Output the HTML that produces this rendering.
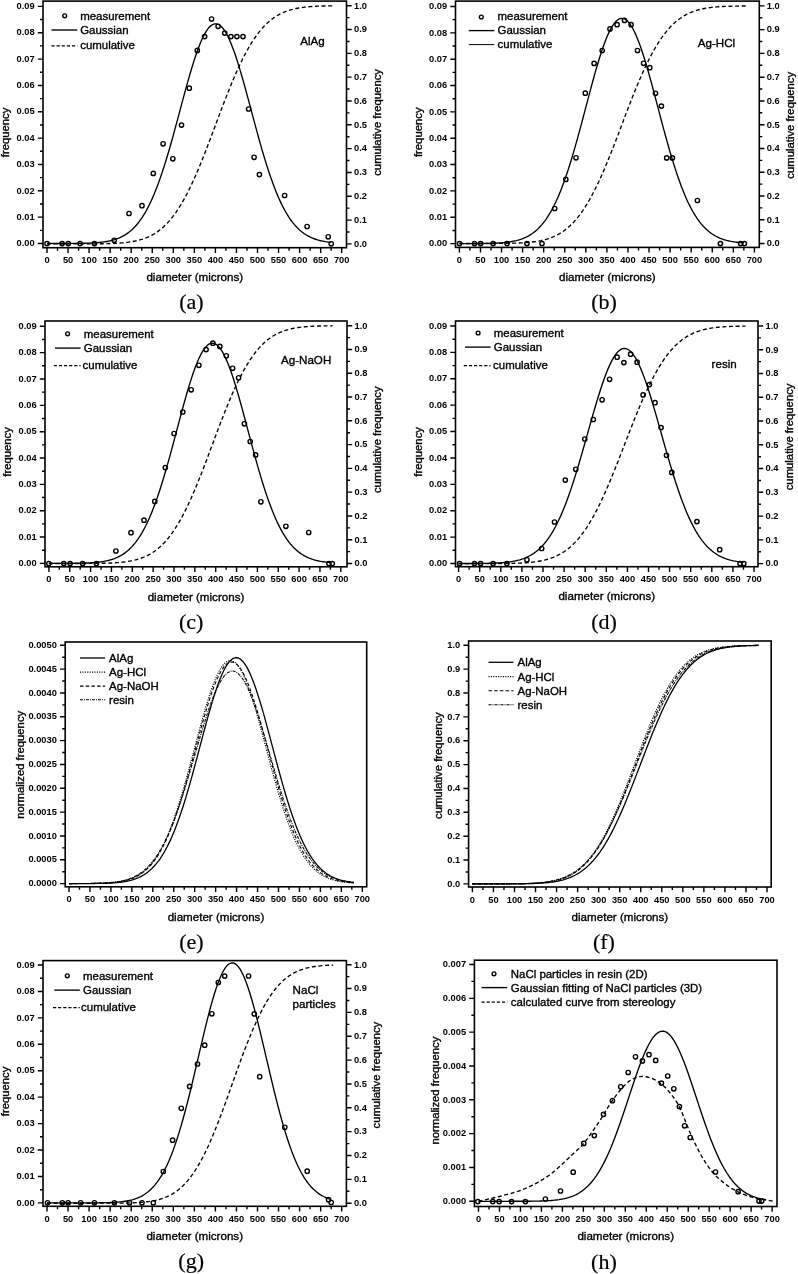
<!DOCTYPE html>
<html><head><meta charset="utf-8"><style>
html,body{margin:0;padding:0;background:#fff;}
svg{display:block;}
svg{will-change:transform;}
text{font-family:"Liberation Sans",sans-serif;fill:#000;}
.tk{font-size:9.7px;font-weight:bold;}
.tt{font-size:11.3px;stroke:#000;stroke-width:0.35px;}
.lg{font-size:11.45px;stroke:#000;stroke-width:0.35px;}
.lb{font-size:11.6px;stroke:#000;stroke-width:0.35px;}
.xt{font-size:11.6px;stroke:#000;stroke-width:0.35px;}
.pl{font-family:"Liberation Serif",serif;font-size:22px;stroke:#000;stroke-width:0.2px;}
</style></head><body>
<svg width="798" height="1274" viewBox="0 0 798 1274">
<rect width="798" height="1274" fill="#fff"/>
<rect x="43" y="1.1" width="303.50" height="246.60" fill="none" stroke="#000" stroke-width="1.6"/>
<text x="47.00" y="263.30" class="tk" text-anchor="middle" textLength="5.17" lengthAdjust="spacingAndGlyphs">0</text>
<text x="68.05" y="263.30" class="tk" text-anchor="middle" textLength="10.34" lengthAdjust="spacingAndGlyphs">50</text>
<text x="89.10" y="263.30" class="tk" text-anchor="middle" textLength="15.51" lengthAdjust="spacingAndGlyphs">100</text>
<text x="110.15" y="263.30" class="tk" text-anchor="middle" textLength="15.51" lengthAdjust="spacingAndGlyphs">150</text>
<text x="131.20" y="263.30" class="tk" text-anchor="middle" textLength="15.51" lengthAdjust="spacingAndGlyphs">200</text>
<text x="152.25" y="263.30" class="tk" text-anchor="middle" textLength="15.51" lengthAdjust="spacingAndGlyphs">250</text>
<text x="173.30" y="263.30" class="tk" text-anchor="middle" textLength="15.51" lengthAdjust="spacingAndGlyphs">300</text>
<text x="194.35" y="263.30" class="tk" text-anchor="middle" textLength="15.51" lengthAdjust="spacingAndGlyphs">350</text>
<text x="215.40" y="263.30" class="tk" text-anchor="middle" textLength="15.51" lengthAdjust="spacingAndGlyphs">400</text>
<text x="236.45" y="263.30" class="tk" text-anchor="middle" textLength="15.51" lengthAdjust="spacingAndGlyphs">450</text>
<text x="257.50" y="263.30" class="tk" text-anchor="middle" textLength="15.51" lengthAdjust="spacingAndGlyphs">500</text>
<text x="278.55" y="263.30" class="tk" text-anchor="middle" textLength="15.51" lengthAdjust="spacingAndGlyphs">550</text>
<text x="299.60" y="263.30" class="tk" text-anchor="middle" textLength="15.51" lengthAdjust="spacingAndGlyphs">600</text>
<text x="320.65" y="263.30" class="tk" text-anchor="middle" textLength="15.51" lengthAdjust="spacingAndGlyphs">650</text>
<text x="341.70" y="263.30" class="tk" text-anchor="middle" textLength="15.51" lengthAdjust="spacingAndGlyphs">700</text>
<path d="M47.00,247.7 v5.2 M57.52,247.7 v3.0 M68.05,247.7 v5.2 M78.58,247.7 v3.0 M89.10,247.7 v5.2 M99.62,247.7 v3.0 M110.15,247.7 v5.2 M120.67,247.7 v3.0 M131.20,247.7 v5.2 M141.72,247.7 v3.0 M152.25,247.7 v5.2 M162.77,247.7 v3.0 M173.30,247.7 v5.2 M183.82,247.7 v3.0 M194.35,247.7 v5.2 M204.88,247.7 v3.0 M215.40,247.7 v5.2 M225.92,247.7 v3.0 M236.45,247.7 v5.2 M246.97,247.7 v3.0 M257.50,247.7 v5.2 M268.02,247.7 v3.0 M278.55,247.7 v5.2 M289.07,247.7 v3.0 M299.60,247.7 v5.2 M310.12,247.7 v3.0 M320.65,247.7 v5.2 M331.18,247.7 v3.0 M341.70,247.7 v5.2" stroke="#000" stroke-width="1.4" fill="none"/>
<text x="194.75" y="281.40" class="xt" text-anchor="middle">diameter (microns)</text>
<text x="34.70" y="246.20" class="tk" text-anchor="end" textLength="18.10" lengthAdjust="spacingAndGlyphs">0.00</text>
<text x="34.70" y="219.86" class="tk" text-anchor="end" textLength="18.10" lengthAdjust="spacingAndGlyphs">0.01</text>
<text x="34.70" y="193.51" class="tk" text-anchor="end" textLength="18.10" lengthAdjust="spacingAndGlyphs">0.02</text>
<text x="34.70" y="167.17" class="tk" text-anchor="end" textLength="18.10" lengthAdjust="spacingAndGlyphs">0.03</text>
<text x="34.70" y="140.82" class="tk" text-anchor="end" textLength="18.10" lengthAdjust="spacingAndGlyphs">0.04</text>
<text x="34.70" y="114.48" class="tk" text-anchor="end" textLength="18.10" lengthAdjust="spacingAndGlyphs">0.05</text>
<text x="34.70" y="88.13" class="tk" text-anchor="end" textLength="18.10" lengthAdjust="spacingAndGlyphs">0.06</text>
<text x="34.70" y="61.79" class="tk" text-anchor="end" textLength="18.10" lengthAdjust="spacingAndGlyphs">0.07</text>
<text x="34.70" y="35.44" class="tk" text-anchor="end" textLength="18.10" lengthAdjust="spacingAndGlyphs">0.08</text>
<text x="34.70" y="9.10" class="tk" text-anchor="end" textLength="18.10" lengthAdjust="spacingAndGlyphs">0.09</text>
<path d="M43,243.50 h-5.2 M43,217.16 h-5.2 M43,190.81 h-5.2 M43,164.47 h-5.2 M43,138.12 h-5.2 M43,111.78 h-5.2 M43,85.43 h-5.2 M43,59.09 h-5.2 M43,32.74 h-5.2 M43,6.40 h-5.2 M43,230.33 h-3.0 M43,203.98 h-3.0 M43,177.64 h-3.0 M43,151.29 h-3.0 M43,124.95 h-3.0 M43,98.61 h-3.0 M43,72.26 h-3.0 M43,45.92 h-3.0 M43,19.57 h-3.0" stroke="#000" stroke-width="1.4" fill="none"/>
<text x="354.00" y="246.70" class="tk" textLength="12.93" lengthAdjust="spacingAndGlyphs">0.0</text>
<text x="354.00" y="222.88" class="tk" textLength="12.93" lengthAdjust="spacingAndGlyphs">0.1</text>
<text x="354.00" y="199.06" class="tk" textLength="12.93" lengthAdjust="spacingAndGlyphs">0.2</text>
<text x="354.00" y="175.24" class="tk" textLength="12.93" lengthAdjust="spacingAndGlyphs">0.3</text>
<text x="354.00" y="151.42" class="tk" textLength="12.93" lengthAdjust="spacingAndGlyphs">0.4</text>
<text x="354.00" y="127.60" class="tk" textLength="12.93" lengthAdjust="spacingAndGlyphs">0.5</text>
<text x="354.00" y="103.78" class="tk" textLength="12.93" lengthAdjust="spacingAndGlyphs">0.6</text>
<text x="354.00" y="79.96" class="tk" textLength="12.93" lengthAdjust="spacingAndGlyphs">0.7</text>
<text x="354.00" y="56.14" class="tk" textLength="12.93" lengthAdjust="spacingAndGlyphs">0.8</text>
<text x="354.00" y="32.32" class="tk" textLength="12.93" lengthAdjust="spacingAndGlyphs">0.9</text>
<text x="354.00" y="8.50" class="tk" textLength="12.93" lengthAdjust="spacingAndGlyphs">1.0</text>
<path d="M346.5,243.90 h5.2 M346.5,231.99 h3.0 M346.5,220.08 h5.2 M346.5,208.17 h3.0 M346.5,196.26 h5.2 M346.5,184.35 h3.0 M346.5,172.44 h5.2 M346.5,160.53 h3.0 M346.5,148.62 h5.2 M346.5,136.71 h3.0 M346.5,124.80 h5.2 M346.5,112.89 h3.0 M346.5,100.98 h5.2 M346.5,89.07 h3.0 M346.5,77.16 h5.2 M346.5,65.25 h3.0 M346.5,53.34 h5.2 M346.5,41.43 h3.0 M346.5,29.52 h5.2 M346.5,17.61 h3.0 M346.5,5.70 h5.2" stroke="#000" stroke-width="1.4" fill="none"/>
<text x="9.10" y="132.40" class="tt" text-anchor="middle" transform="rotate(-90 9.10 132.40)">frequency</text>
<text x="381.00" y="122.40" class="tt" text-anchor="middle" transform="rotate(-90 381.00 122.40)">cumulative frequency</text>
<path d="M47.00,243.50 L48.42,243.50 L49.84,243.50 L51.26,243.49 L52.68,243.49 L54.10,243.49 L55.53,243.49 L56.95,243.49 L58.37,243.49 L59.79,243.49 L61.21,243.48 L62.63,243.48 L64.05,243.47 L65.47,243.47 L66.89,243.46 L68.31,243.46 L69.73,243.45 L71.15,243.44 L72.58,243.43 L74.00,243.42 L75.42,243.41 L76.84,243.39 L78.26,243.37 L79.68,243.35 L81.10,243.33 L82.52,243.30 L83.94,243.27 L85.36,243.23 L86.78,243.19 L88.21,243.14 L89.63,243.08 L91.05,243.02 L92.47,242.95 L93.89,242.87 L95.31,242.78 L96.73,242.67 L98.15,242.56 L99.57,242.42 L100.99,242.28 L102.41,242.11 L103.84,241.92 L105.26,241.71 L106.68,241.48 L108.10,241.22 L109.52,240.93 L110.94,240.60 L112.36,240.24 L113.78,239.85 L115.20,239.41 L116.62,238.92 L118.04,238.39 L119.46,237.80 L120.89,237.16 L122.31,236.45 L123.73,235.68 L125.15,234.84 L126.57,233.92 L127.99,232.92 L129.41,231.83 L130.83,230.66 L132.25,229.39 L133.67,228.02 L135.09,226.54 L136.52,224.95 L137.94,223.24 L139.36,221.41 L140.78,219.46 L142.20,217.37 L143.62,215.15 L145.04,212.79 L146.46,210.28 L147.88,207.63 L149.30,204.82 L150.72,201.87 L152.14,198.76 L153.57,195.49 L154.99,192.07 L156.41,188.49 L157.83,184.75 L159.25,180.87 L160.67,176.83 L162.09,172.64 L163.51,168.32 L164.93,163.85 L166.35,159.25 L167.77,154.53 L169.20,149.70 L170.62,144.76 L172.04,139.73 L173.46,134.61 L174.88,129.43 L176.30,124.18 L177.72,118.90 L179.14,113.59 L180.56,108.27 L181.98,102.95 L183.40,97.66 L184.82,92.41 L186.25,87.22 L187.67,82.11 L189.09,77.10 L190.51,72.21 L191.93,67.45 L193.35,62.85 L194.77,58.43 L196.19,54.20 L197.61,50.18 L199.03,46.39 L200.45,42.85 L201.88,39.57 L203.30,36.56 L204.72,33.85 L206.14,31.44 L207.56,29.34 L208.98,27.57 L210.40,26.13 L211.82,25.03 L213.24,24.27 L214.66,23.87 L216.08,23.81 L217.50,24.10 L218.93,24.74 L220.35,25.73 L221.77,27.05 L223.19,28.72 L224.61,30.71 L226.03,33.01 L227.45,35.63 L228.87,38.54 L230.29,41.73 L231.71,45.18 L233.13,48.89 L234.56,52.83 L235.98,57.00 L237.40,61.36 L238.82,65.90 L240.24,70.61 L241.66,75.46 L243.08,80.43 L244.50,85.51 L245.92,90.67 L247.34,95.90 L248.76,101.18 L250.19,106.49 L251.61,111.81 L253.03,117.13 L254.45,122.43 L255.87,127.68 L257.29,132.89 L258.71,138.03 L260.13,143.09 L261.55,148.07 L262.97,152.94 L264.39,157.69 L265.81,162.33 L267.24,166.84 L268.66,171.22 L270.08,175.45 L271.50,179.54 L272.92,183.48 L274.34,187.26 L275.76,190.89 L277.18,194.37 L278.60,197.68 L280.02,200.85 L281.44,203.85 L282.87,206.71 L284.29,209.41 L285.71,211.97 L287.13,214.38 L288.55,216.64 L289.97,218.78 L291.39,220.77 L292.81,222.64 L294.23,224.39 L295.65,226.02 L297.07,227.53 L298.49,228.94 L299.92,230.25 L301.34,231.45 L302.76,232.57 L304.18,233.59 L305.60,234.54 L307.02,235.41 L308.44,236.20 L309.86,236.93 L311.28,237.59 L312.70,238.20 L314.12,238.75 L315.55,239.25 L316.97,239.71 L318.39,240.12 L319.81,240.49 L321.23,240.82 L322.65,241.12 L324.07,241.39 L325.49,241.64 L326.91,241.85 L328.33,242.05 L329.75,242.22 L331.18,242.38" fill="none" stroke="#000" stroke-width="1.35"/>
<path d="M47.00,243.90 L48.43,243.90 L49.86,243.90 L51.29,243.90 L52.73,243.90 L54.16,243.90 L55.59,243.90 L57.02,243.90 L58.45,243.90 L59.88,243.90 L61.31,243.90 L62.75,243.90 L64.18,243.90 L65.61,243.90 L67.04,243.90 L68.47,243.90 L69.90,243.89 L71.33,243.89 L72.77,243.89 L74.20,243.89 L75.63,243.89 L77.06,243.89 L78.49,243.89 L79.92,243.88 L81.35,243.88 L82.78,243.88 L84.22,243.87 L85.65,243.87 L87.08,243.86 L88.51,243.86 L89.94,243.85 L91.37,243.84 L92.80,243.83 L94.24,243.82 L95.67,243.81 L97.10,243.80 L98.53,243.78 L99.96,243.76 L101.39,243.74 L102.82,243.72 L104.26,243.69 L105.69,243.66 L107.12,243.63 L108.55,243.59 L109.98,243.54 L111.41,243.49 L112.84,243.44 L114.28,243.38 L115.71,243.31 L117.14,243.23 L118.57,243.14 L120.00,243.04 L121.43,242.93 L122.86,242.81 L124.30,242.68 L125.73,242.53 L127.16,242.36 L128.59,242.18 L130.02,241.98 L131.45,241.76 L132.88,241.51 L134.32,241.24 L135.75,240.95 L137.18,240.63 L138.61,240.28 L140.04,239.89 L141.47,239.47 L142.90,239.02 L144.34,238.53 L145.77,237.99 L147.20,237.41 L148.63,236.79 L150.06,236.11 L151.49,235.39 L152.92,234.60 L154.35,233.77 L155.79,232.87 L157.22,231.91 L158.65,230.88 L160.08,229.78 L161.51,228.62 L162.94,227.38 L164.37,226.06 L165.81,224.66 L167.24,223.19 L168.67,221.63 L170.10,219.99 L171.53,218.25 L172.96,216.44 L174.39,214.53 L175.83,212.53 L177.26,210.43 L178.69,208.25 L180.12,205.97 L181.55,203.60 L182.98,201.14 L184.41,198.58 L185.85,195.93 L187.28,193.19 L188.71,190.36 L190.14,187.45 L191.57,184.44 L193.00,181.36 L194.43,178.20 L195.87,174.96 L197.30,171.64 L198.73,168.26 L200.16,164.81 L201.59,161.30 L203.02,157.74 L204.45,154.12 L205.89,150.46 L207.32,146.76 L208.75,143.02 L210.18,139.25 L211.61,135.46 L213.04,131.65 L214.47,127.84 L215.91,124.01 L217.34,120.19 L218.77,116.38 L220.20,112.58 L221.63,108.79 L223.06,105.04 L224.49,101.32 L225.92,97.63 L227.36,93.98 L228.79,90.39 L230.22,86.85 L231.65,83.36 L233.08,79.94 L234.51,76.58 L235.94,73.30 L237.38,70.09 L238.81,66.96 L240.24,63.91 L241.67,60.94 L243.10,58.06 L244.53,55.27 L245.96,52.57 L247.40,49.96 L248.83,47.44 L250.26,45.01 L251.69,42.68 L253.12,40.44 L254.55,38.29 L255.98,36.24 L257.42,34.28 L258.85,32.40 L260.28,30.62 L261.71,28.93 L263.14,27.32 L264.57,25.79 L266.00,24.35 L267.44,22.99 L268.87,21.70 L270.30,20.50 L271.73,19.36 L273.16,18.29 L274.59,17.29 L276.02,16.36 L277.46,15.48 L278.89,14.67 L280.32,13.91 L281.75,13.20 L283.18,12.55 L284.61,11.94 L286.04,11.38 L287.48,10.87 L288.91,10.39 L290.34,9.95 L291.77,9.55 L293.20,9.18 L294.63,8.84 L296.06,8.53 L297.50,8.24 L298.93,7.98 L300.36,7.75 L301.79,7.54 L303.22,7.34 L304.65,7.17 L306.08,7.01 L307.51,6.87 L308.95,6.74 L310.38,6.62 L311.81,6.52 L313.24,6.42 L314.67,6.34 L316.10,6.26 L317.53,6.20 L318.97,6.14 L320.40,6.08 L321.83,6.04 L323.26,6.00 L324.69,5.96 L326.12,5.93 L327.55,5.90 L328.99,5.87 L330.42,5.85 L331.85,5.83 L333.28,5.81" fill="none" stroke="#000" stroke-width="1.35" stroke-dasharray="4 2.6"/>
<circle cx="47.00" cy="243.60" r="2.15" fill="none" stroke="#000" stroke-width="1.4"/>
<circle cx="62.10" cy="243.60" r="2.15" fill="none" stroke="#000" stroke-width="1.4"/>
<circle cx="68.30" cy="243.60" r="2.15" fill="none" stroke="#000" stroke-width="1.4"/>
<circle cx="80.10" cy="243.60" r="2.15" fill="none" stroke="#000" stroke-width="1.4"/>
<circle cx="94.40" cy="243.60" r="2.15" fill="none" stroke="#000" stroke-width="1.4"/>
<circle cx="114.20" cy="240.30" r="2.15" fill="none" stroke="#000" stroke-width="1.4"/>
<circle cx="129.00" cy="213.50" r="2.15" fill="none" stroke="#000" stroke-width="1.4"/>
<circle cx="142.00" cy="205.70" r="2.15" fill="none" stroke="#000" stroke-width="1.4"/>
<circle cx="153.30" cy="173.40" r="2.15" fill="none" stroke="#000" stroke-width="1.4"/>
<circle cx="163.10" cy="143.80" r="2.15" fill="none" stroke="#000" stroke-width="1.4"/>
<circle cx="172.80" cy="158.80" r="2.15" fill="none" stroke="#000" stroke-width="1.4"/>
<circle cx="181.50" cy="125.10" r="2.15" fill="none" stroke="#000" stroke-width="1.4"/>
<circle cx="189.30" cy="88.20" r="2.15" fill="none" stroke="#000" stroke-width="1.4"/>
<circle cx="197.30" cy="50.40" r="2.15" fill="none" stroke="#000" stroke-width="1.4"/>
<circle cx="204.60" cy="36.60" r="2.15" fill="none" stroke="#000" stroke-width="1.4"/>
<circle cx="211.60" cy="19.00" r="2.15" fill="none" stroke="#000" stroke-width="1.4"/>
<circle cx="218.10" cy="26.30" r="2.15" fill="none" stroke="#000" stroke-width="1.4"/>
<circle cx="224.70" cy="33.10" r="2.15" fill="none" stroke="#000" stroke-width="1.4"/>
<circle cx="230.90" cy="36.60" r="2.15" fill="none" stroke="#000" stroke-width="1.4"/>
<circle cx="236.90" cy="36.60" r="2.15" fill="none" stroke="#000" stroke-width="1.4"/>
<circle cx="243.00" cy="36.60" r="2.15" fill="none" stroke="#000" stroke-width="1.4"/>
<circle cx="248.60" cy="109.00" r="2.15" fill="none" stroke="#000" stroke-width="1.4"/>
<circle cx="254.10" cy="157.30" r="2.15" fill="none" stroke="#000" stroke-width="1.4"/>
<circle cx="259.40" cy="174.60" r="2.15" fill="none" stroke="#000" stroke-width="1.4"/>
<circle cx="284.60" cy="195.50" r="2.15" fill="none" stroke="#000" stroke-width="1.4"/>
<circle cx="307.10" cy="226.50" r="2.15" fill="none" stroke="#000" stroke-width="1.4"/>
<circle cx="328.20" cy="236.80" r="2.15" fill="none" stroke="#000" stroke-width="1.4"/>
<circle cx="331.20" cy="243.80" r="2.15" fill="none" stroke="#000" stroke-width="1.4"/>
<circle cx="64.70" cy="15.80" r="1.9" fill="none" stroke="#000" stroke-width="1.4"/>
<path d="M51.50,30.00 H77.30" stroke="#000" stroke-width="1.35"/>
<path d="M51.50,45.90 H77.30" stroke="#000" stroke-width="1.35" stroke-dasharray="3.2 1.9"/>
<text x="80.20" y="19.80" class="lg">measurement</text>
<text x="80.20" y="33.50" class="lg">Gaussian</text>
<text x="80.20" y="49.30" class="lg">cumulative</text>
<text x="300.30" y="44.60" class="lb">AlAg</text>
<rect x="455.5" y="1.1" width="303.80" height="246.30" fill="none" stroke="#000" stroke-width="1.6"/>
<text x="459.40" y="263.00" class="tk" text-anchor="middle" textLength="5.17" lengthAdjust="spacingAndGlyphs">0</text>
<text x="480.47" y="263.00" class="tk" text-anchor="middle" textLength="10.34" lengthAdjust="spacingAndGlyphs">50</text>
<text x="501.54" y="263.00" class="tk" text-anchor="middle" textLength="15.51" lengthAdjust="spacingAndGlyphs">100</text>
<text x="522.61" y="263.00" class="tk" text-anchor="middle" textLength="15.51" lengthAdjust="spacingAndGlyphs">150</text>
<text x="543.69" y="263.00" class="tk" text-anchor="middle" textLength="15.51" lengthAdjust="spacingAndGlyphs">200</text>
<text x="564.76" y="263.00" class="tk" text-anchor="middle" textLength="15.51" lengthAdjust="spacingAndGlyphs">250</text>
<text x="585.83" y="263.00" class="tk" text-anchor="middle" textLength="15.51" lengthAdjust="spacingAndGlyphs">300</text>
<text x="606.90" y="263.00" class="tk" text-anchor="middle" textLength="15.51" lengthAdjust="spacingAndGlyphs">350</text>
<text x="627.97" y="263.00" class="tk" text-anchor="middle" textLength="15.51" lengthAdjust="spacingAndGlyphs">400</text>
<text x="649.04" y="263.00" class="tk" text-anchor="middle" textLength="15.51" lengthAdjust="spacingAndGlyphs">450</text>
<text x="670.11" y="263.00" class="tk" text-anchor="middle" textLength="15.51" lengthAdjust="spacingAndGlyphs">500</text>
<text x="691.19" y="263.00" class="tk" text-anchor="middle" textLength="15.51" lengthAdjust="spacingAndGlyphs">550</text>
<text x="712.26" y="263.00" class="tk" text-anchor="middle" textLength="15.51" lengthAdjust="spacingAndGlyphs">600</text>
<text x="733.33" y="263.00" class="tk" text-anchor="middle" textLength="15.51" lengthAdjust="spacingAndGlyphs">650</text>
<text x="754.40" y="263.00" class="tk" text-anchor="middle" textLength="15.51" lengthAdjust="spacingAndGlyphs">700</text>
<path d="M459.40,247.4 v5.2 M469.94,247.4 v3.0 M480.47,247.4 v5.2 M491.01,247.4 v3.0 M501.54,247.4 v5.2 M512.08,247.4 v3.0 M522.61,247.4 v5.2 M533.15,247.4 v3.0 M543.69,247.4 v5.2 M554.22,247.4 v3.0 M564.76,247.4 v5.2 M575.29,247.4 v3.0 M585.83,247.4 v5.2 M596.36,247.4 v3.0 M606.90,247.4 v5.2 M617.44,247.4 v3.0 M627.97,247.4 v5.2 M638.51,247.4 v3.0 M649.04,247.4 v5.2 M659.58,247.4 v3.0 M670.11,247.4 v5.2 M680.65,247.4 v3.0 M691.19,247.4 v5.2 M701.72,247.4 v3.0 M712.26,247.4 v5.2 M722.79,247.4 v3.0 M733.33,247.4 v5.2 M743.86,247.4 v3.0 M754.40,247.4 v5.2" stroke="#000" stroke-width="1.4" fill="none"/>
<text x="607.40" y="281.10" class="xt" text-anchor="middle">diameter (microns)</text>
<text x="447.20" y="246.30" class="tk" text-anchor="end" textLength="18.10" lengthAdjust="spacingAndGlyphs">0.00</text>
<text x="447.20" y="219.96" class="tk" text-anchor="end" textLength="18.10" lengthAdjust="spacingAndGlyphs">0.01</text>
<text x="447.20" y="193.61" class="tk" text-anchor="end" textLength="18.10" lengthAdjust="spacingAndGlyphs">0.02</text>
<text x="447.20" y="167.27" class="tk" text-anchor="end" textLength="18.10" lengthAdjust="spacingAndGlyphs">0.03</text>
<text x="447.20" y="140.92" class="tk" text-anchor="end" textLength="18.10" lengthAdjust="spacingAndGlyphs">0.04</text>
<text x="447.20" y="114.58" class="tk" text-anchor="end" textLength="18.10" lengthAdjust="spacingAndGlyphs">0.05</text>
<text x="447.20" y="88.23" class="tk" text-anchor="end" textLength="18.10" lengthAdjust="spacingAndGlyphs">0.06</text>
<text x="447.20" y="61.89" class="tk" text-anchor="end" textLength="18.10" lengthAdjust="spacingAndGlyphs">0.07</text>
<text x="447.20" y="35.54" class="tk" text-anchor="end" textLength="18.10" lengthAdjust="spacingAndGlyphs">0.08</text>
<text x="447.20" y="9.20" class="tk" text-anchor="end" textLength="18.10" lengthAdjust="spacingAndGlyphs">0.09</text>
<path d="M455.5,243.60 h-5.2 M455.5,217.26 h-5.2 M455.5,190.91 h-5.2 M455.5,164.57 h-5.2 M455.5,138.22 h-5.2 M455.5,111.88 h-5.2 M455.5,85.53 h-5.2 M455.5,59.19 h-5.2 M455.5,32.84 h-5.2 M455.5,6.50 h-5.2 M455.5,230.43 h-3.0 M455.5,204.08 h-3.0 M455.5,177.74 h-3.0 M455.5,151.39 h-3.0 M455.5,125.05 h-3.0 M455.5,98.71 h-3.0 M455.5,72.36 h-3.0 M455.5,46.02 h-3.0 M455.5,19.67 h-3.0" stroke="#000" stroke-width="1.4" fill="none"/>
<text x="766.80" y="246.30" class="tk" textLength="12.93" lengthAdjust="spacingAndGlyphs">0.0</text>
<text x="766.80" y="222.54" class="tk" textLength="12.93" lengthAdjust="spacingAndGlyphs">0.1</text>
<text x="766.80" y="198.78" class="tk" textLength="12.93" lengthAdjust="spacingAndGlyphs">0.2</text>
<text x="766.80" y="175.02" class="tk" textLength="12.93" lengthAdjust="spacingAndGlyphs">0.3</text>
<text x="766.80" y="151.26" class="tk" textLength="12.93" lengthAdjust="spacingAndGlyphs">0.4</text>
<text x="766.80" y="127.50" class="tk" textLength="12.93" lengthAdjust="spacingAndGlyphs">0.5</text>
<text x="766.80" y="103.74" class="tk" textLength="12.93" lengthAdjust="spacingAndGlyphs">0.6</text>
<text x="766.80" y="79.98" class="tk" textLength="12.93" lengthAdjust="spacingAndGlyphs">0.7</text>
<text x="766.80" y="56.22" class="tk" textLength="12.93" lengthAdjust="spacingAndGlyphs">0.8</text>
<text x="766.80" y="32.46" class="tk" textLength="12.93" lengthAdjust="spacingAndGlyphs">0.9</text>
<text x="766.80" y="8.70" class="tk" textLength="12.93" lengthAdjust="spacingAndGlyphs">1.0</text>
<path d="M759.3,243.50 h5.2 M759.3,231.62 h3.0 M759.3,219.74 h5.2 M759.3,207.86 h3.0 M759.3,195.98 h5.2 M759.3,184.10 h3.0 M759.3,172.22 h5.2 M759.3,160.34 h3.0 M759.3,148.46 h5.2 M759.3,136.58 h3.0 M759.3,124.70 h5.2 M759.3,112.82 h3.0 M759.3,100.94 h5.2 M759.3,89.06 h3.0 M759.3,77.18 h5.2 M759.3,65.30 h3.0 M759.3,53.42 h5.2 M759.3,41.54 h3.0 M759.3,29.66 h5.2 M759.3,17.78 h3.0 M759.3,5.90 h5.2" stroke="#000" stroke-width="1.4" fill="none"/>
<text x="421.60" y="132.25" class="tt" text-anchor="middle" transform="rotate(-90 421.60 132.25)">frequency</text>
<text x="794.30" y="125.30" class="tt" text-anchor="middle" transform="rotate(-90 794.30 125.30)">cumulative frequency</text>
<path d="M459.40,243.59 L460.82,243.59 L462.24,243.59 L463.67,243.59 L465.09,243.58 L466.51,243.58 L467.93,243.58 L469.36,243.57 L470.78,243.57 L472.20,243.56 L473.62,243.55 L475.05,243.55 L476.47,243.54 L477.89,243.53 L479.31,243.51 L480.73,243.50 L482.16,243.48 L483.58,243.46 L485.00,243.44 L486.42,243.41 L487.85,243.38 L489.27,243.35 L490.69,243.31 L492.11,243.27 L493.54,243.21 L494.96,243.16 L496.38,243.09 L497.80,243.02 L499.22,242.93 L500.65,242.83 L502.07,242.73 L503.49,242.60 L504.91,242.47 L506.34,242.31 L507.76,242.14 L509.18,241.94 L510.60,241.73 L512.03,241.48 L513.45,241.21 L514.87,240.91 L516.29,240.58 L517.72,240.21 L519.14,239.80 L520.56,239.35 L521.98,238.85 L523.40,238.31 L524.83,237.71 L526.25,237.05 L527.67,236.32 L529.09,235.54 L530.52,234.68 L531.94,233.74 L533.36,232.72 L534.78,231.62 L536.21,230.42 L537.63,229.13 L539.05,227.74 L540.47,226.24 L541.89,224.63 L543.32,222.90 L544.74,221.05 L546.16,219.07 L547.58,216.96 L549.01,214.71 L550.43,212.32 L551.85,209.79 L553.27,207.11 L554.70,204.28 L556.12,201.30 L557.54,198.16 L558.96,194.86 L560.38,191.41 L561.81,187.80 L563.23,184.03 L564.65,180.11 L566.07,176.04 L567.50,171.82 L568.92,167.45 L570.34,162.94 L571.76,158.31 L573.19,153.54 L574.61,148.66 L576.03,143.67 L577.45,138.58 L578.88,133.41 L580.30,128.16 L581.72,122.85 L583.14,117.49 L584.56,112.10 L585.99,106.70 L587.41,101.30 L588.83,95.92 L590.25,90.57 L591.68,85.27 L593.10,80.05 L594.52,74.93 L595.94,69.91 L597.37,65.02 L598.79,60.29 L600.21,55.72 L601.63,51.34 L603.05,47.16 L604.48,43.21 L605.90,39.50 L607.32,36.04 L608.74,32.86 L610.17,29.96 L611.59,27.37 L613.01,25.08 L614.43,23.11 L615.86,21.48 L617.28,20.18 L618.70,19.22 L620.12,18.62 L621.54,18.36 L622.97,18.46 L624.39,18.91 L625.81,19.71 L627.23,20.86 L628.66,22.34 L630.08,24.16 L631.50,26.31 L632.92,28.77 L634.35,31.54 L635.77,34.60 L637.19,37.93 L638.61,41.53 L640.03,45.38 L641.46,49.46 L642.88,53.75 L644.30,58.23 L645.72,62.90 L647.15,67.72 L648.57,72.68 L649.99,77.76 L651.41,82.94 L652.84,88.21 L654.26,93.53 L655.68,98.90 L657.10,104.30 L658.52,109.70 L659.95,115.10 L661.37,120.47 L662.79,125.80 L664.21,131.08 L665.64,136.29 L667.06,141.42 L668.48,146.45 L669.90,151.38 L671.33,156.20 L672.75,160.90 L674.17,165.46 L675.59,169.89 L677.02,174.18 L678.44,178.32 L679.86,182.31 L681.28,186.15 L682.70,189.82 L684.13,193.35 L685.55,196.71 L686.97,199.92 L688.39,202.97 L689.82,205.87 L691.24,208.62 L692.66,211.22 L694.08,213.67 L695.51,215.98 L696.93,218.15 L698.35,220.18 L699.77,222.09 L701.19,223.87 L702.62,225.54 L704.04,227.09 L705.46,228.53 L706.88,229.86 L708.31,231.10 L709.73,232.24 L711.15,233.30 L712.57,234.27 L714.00,235.16 L715.42,235.98 L716.84,236.73 L718.26,237.42 L719.68,238.05 L721.11,238.62 L722.53,239.14 L723.95,239.61 L725.37,240.03 L726.80,240.42 L728.22,240.77 L729.64,241.08 L731.06,241.37 L732.49,241.62 L733.91,241.85 L735.33,242.05 L736.75,242.24 L738.17,242.40 L739.60,242.54 L741.02,242.67 L742.44,242.79 L743.86,242.89" fill="none" stroke="#000" stroke-width="1.35"/>
<path d="M459.40,243.50 L460.83,243.50 L462.27,243.50 L463.70,243.50 L465.13,243.50 L466.56,243.50 L468.00,243.50 L469.43,243.50 L470.86,243.50 L472.30,243.50 L473.73,243.50 L475.16,243.49 L476.59,243.49 L478.03,243.49 L479.46,243.49 L480.89,243.49 L482.33,243.49 L483.76,243.49 L485.19,243.48 L486.62,243.48 L488.06,243.48 L489.49,243.47 L490.92,243.47 L492.36,243.46 L493.79,243.46 L495.22,243.45 L496.65,243.44 L498.09,243.43 L499.52,243.42 L500.95,243.41 L502.39,243.39 L503.82,243.38 L505.25,243.36 L506.68,243.34 L508.12,243.32 L509.55,243.29 L510.98,243.26 L512.42,243.22 L513.85,243.18 L515.28,243.14 L516.71,243.09 L518.15,243.04 L519.58,242.97 L521.01,242.90 L522.45,242.82 L523.88,242.74 L525.31,242.64 L526.74,242.53 L528.18,242.41 L529.61,242.28 L531.04,242.13 L532.48,241.97 L533.91,241.79 L535.34,241.59 L536.77,241.37 L538.21,241.13 L539.64,240.86 L541.07,240.58 L542.51,240.26 L543.94,239.91 L545.37,239.54 L546.80,239.13 L548.24,238.68 L549.67,238.20 L551.10,237.68 L552.54,237.11 L553.97,236.50 L555.40,235.84 L556.83,235.13 L558.27,234.37 L559.70,233.55 L561.13,232.67 L562.57,231.73 L564.00,230.73 L565.43,229.66 L566.86,228.53 L568.30,227.32 L569.73,226.04 L571.16,224.68 L572.60,223.24 L574.03,221.72 L575.46,220.12 L576.89,218.44 L578.33,216.66 L579.76,214.81 L581.19,212.86 L582.63,210.82 L584.06,208.69 L585.49,206.47 L586.92,204.16 L588.36,201.76 L589.79,199.27 L591.22,196.69 L592.66,194.01 L594.09,191.25 L595.52,188.41 L596.95,185.48 L598.39,182.46 L599.82,179.37 L601.25,176.20 L602.69,172.96 L604.12,169.65 L605.55,166.27 L606.98,162.84 L608.42,159.34 L609.85,155.79 L611.28,152.19 L612.72,148.56 L614.15,144.88 L615.58,141.17 L617.01,137.44 L618.45,133.69 L619.88,129.92 L621.31,126.14 L622.75,122.37 L624.18,118.59 L625.61,114.83 L627.04,111.08 L628.48,107.35 L629.91,103.65 L631.34,99.98 L632.78,96.36 L634.21,92.77 L635.64,89.23 L637.07,85.75 L638.51,82.33 L639.94,78.96 L641.37,75.67 L642.81,72.44 L644.24,69.29 L645.67,66.22 L647.10,63.23 L648.54,60.31 L649.97,57.49 L651.40,54.75 L652.84,52.10 L654.27,49.54 L655.70,47.07 L657.13,44.69 L658.57,42.40 L660.00,40.20 L661.43,38.09 L662.87,36.08 L664.30,34.15 L665.73,32.31 L667.16,30.56 L668.60,28.90 L670.03,27.31 L671.46,25.82 L672.90,24.40 L674.33,23.06 L675.76,21.79 L677.19,20.60 L678.63,19.48 L680.06,18.43 L681.49,17.44 L682.93,16.52 L684.36,15.65 L685.79,14.85 L687.22,14.10 L688.66,13.40 L690.09,12.75 L691.52,12.15 L692.96,11.60 L694.39,11.08 L695.82,10.61 L697.25,10.17 L698.69,9.77 L700.12,9.40 L701.55,9.06 L702.99,8.75 L704.42,8.47 L705.85,8.21 L707.28,7.98 L708.72,7.76 L710.15,7.57 L711.58,7.39 L713.02,7.23 L714.45,7.09 L715.88,6.96 L717.31,6.84 L718.75,6.74 L720.18,6.64 L721.61,6.56 L723.05,6.48 L724.48,6.41 L725.91,6.35 L727.34,6.30 L728.78,6.25 L730.21,6.21 L731.64,6.17 L733.08,6.13 L734.51,6.11 L735.94,6.08 L737.37,6.06 L738.81,6.04 L740.24,6.02 L741.67,6.00 L743.11,5.99 L744.54,5.98 L745.97,5.97" fill="none" stroke="#000" stroke-width="1.35" stroke-dasharray="4 2.6"/>
<circle cx="459.50" cy="243.60" r="2.15" fill="none" stroke="#000" stroke-width="1.4"/>
<circle cx="474.50" cy="243.60" r="2.15" fill="none" stroke="#000" stroke-width="1.4"/>
<circle cx="480.60" cy="243.60" r="2.15" fill="none" stroke="#000" stroke-width="1.4"/>
<circle cx="493.10" cy="243.60" r="2.15" fill="none" stroke="#000" stroke-width="1.4"/>
<circle cx="507.10" cy="243.60" r="2.15" fill="none" stroke="#000" stroke-width="1.4"/>
<circle cx="526.90" cy="243.60" r="2.15" fill="none" stroke="#000" stroke-width="1.4"/>
<circle cx="542.00" cy="243.60" r="2.15" fill="none" stroke="#000" stroke-width="1.4"/>
<circle cx="554.70" cy="208.50" r="2.15" fill="none" stroke="#000" stroke-width="1.4"/>
<circle cx="565.80" cy="179.40" r="2.15" fill="none" stroke="#000" stroke-width="1.4"/>
<circle cx="576.00" cy="157.80" r="2.15" fill="none" stroke="#000" stroke-width="1.4"/>
<circle cx="585.30" cy="93.20" r="2.15" fill="none" stroke="#000" stroke-width="1.4"/>
<circle cx="594.10" cy="63.40" r="2.15" fill="none" stroke="#000" stroke-width="1.4"/>
<circle cx="602.20" cy="50.50" r="2.15" fill="none" stroke="#000" stroke-width="1.4"/>
<circle cx="610.00" cy="28.90" r="2.15" fill="none" stroke="#000" stroke-width="1.4"/>
<circle cx="617.10" cy="24.70" r="2.15" fill="none" stroke="#000" stroke-width="1.4"/>
<circle cx="624.50" cy="20.40" r="2.15" fill="none" stroke="#000" stroke-width="1.4"/>
<circle cx="631.10" cy="24.70" r="2.15" fill="none" stroke="#000" stroke-width="1.4"/>
<circle cx="637.50" cy="50.50" r="2.15" fill="none" stroke="#000" stroke-width="1.4"/>
<circle cx="643.60" cy="63.30" r="2.15" fill="none" stroke="#000" stroke-width="1.4"/>
<circle cx="649.80" cy="67.70" r="2.15" fill="none" stroke="#000" stroke-width="1.4"/>
<circle cx="655.50" cy="93.30" r="2.15" fill="none" stroke="#000" stroke-width="1.4"/>
<circle cx="661.40" cy="106.10" r="2.15" fill="none" stroke="#000" stroke-width="1.4"/>
<circle cx="666.70" cy="157.90" r="2.15" fill="none" stroke="#000" stroke-width="1.4"/>
<circle cx="672.40" cy="157.90" r="2.15" fill="none" stroke="#000" stroke-width="1.4"/>
<circle cx="697.40" cy="200.50" r="2.15" fill="none" stroke="#000" stroke-width="1.4"/>
<circle cx="720.40" cy="243.60" r="2.15" fill="none" stroke="#000" stroke-width="1.4"/>
<circle cx="740.60" cy="243.60" r="2.15" fill="none" stroke="#000" stroke-width="1.4"/>
<circle cx="744.40" cy="243.60" r="2.15" fill="none" stroke="#000" stroke-width="1.4"/>
<circle cx="481.30" cy="17.00" r="1.9" fill="none" stroke="#000" stroke-width="1.4"/>
<path d="M468.80,30.60 H494.30" stroke="#000" stroke-width="1.35"/>
<path d="M468.80,44.60 H494.30" stroke="#000" stroke-width="1.0"/>
<text x="497.60" y="20.40" class="lg">measurement</text>
<text x="497.60" y="34.20" class="lg">Gaussian</text>
<text x="497.60" y="48.30" class="lg">cumulative</text>
<text x="697.80" y="46.60" class="lb">Ag-HCl</text>
<rect x="45" y="321" width="302.00" height="245.80" fill="none" stroke="#000" stroke-width="1.6"/>
<text x="48.90" y="582.40" class="tk" text-anchor="middle" textLength="5.17" lengthAdjust="spacingAndGlyphs">0</text>
<text x="69.75" y="582.40" class="tk" text-anchor="middle" textLength="10.34" lengthAdjust="spacingAndGlyphs">50</text>
<text x="90.60" y="582.40" class="tk" text-anchor="middle" textLength="15.51" lengthAdjust="spacingAndGlyphs">100</text>
<text x="111.45" y="582.40" class="tk" text-anchor="middle" textLength="15.51" lengthAdjust="spacingAndGlyphs">150</text>
<text x="132.30" y="582.40" class="tk" text-anchor="middle" textLength="15.51" lengthAdjust="spacingAndGlyphs">200</text>
<text x="153.15" y="582.40" class="tk" text-anchor="middle" textLength="15.51" lengthAdjust="spacingAndGlyphs">250</text>
<text x="174.00" y="582.40" class="tk" text-anchor="middle" textLength="15.51" lengthAdjust="spacingAndGlyphs">300</text>
<text x="194.85" y="582.40" class="tk" text-anchor="middle" textLength="15.51" lengthAdjust="spacingAndGlyphs">350</text>
<text x="215.70" y="582.40" class="tk" text-anchor="middle" textLength="15.51" lengthAdjust="spacingAndGlyphs">400</text>
<text x="236.55" y="582.40" class="tk" text-anchor="middle" textLength="15.51" lengthAdjust="spacingAndGlyphs">450</text>
<text x="257.40" y="582.40" class="tk" text-anchor="middle" textLength="15.51" lengthAdjust="spacingAndGlyphs">500</text>
<text x="278.25" y="582.40" class="tk" text-anchor="middle" textLength="15.51" lengthAdjust="spacingAndGlyphs">550</text>
<text x="299.10" y="582.40" class="tk" text-anchor="middle" textLength="15.51" lengthAdjust="spacingAndGlyphs">600</text>
<text x="319.95" y="582.40" class="tk" text-anchor="middle" textLength="15.51" lengthAdjust="spacingAndGlyphs">650</text>
<text x="340.80" y="582.40" class="tk" text-anchor="middle" textLength="15.51" lengthAdjust="spacingAndGlyphs">700</text>
<path d="M48.90,566.8 v5.2 M59.33,566.8 v3.0 M69.75,566.8 v5.2 M80.17,566.8 v3.0 M90.60,566.8 v5.2 M101.03,566.8 v3.0 M111.45,566.8 v5.2 M121.88,566.8 v3.0 M132.30,566.8 v5.2 M142.72,566.8 v3.0 M153.15,566.8 v5.2 M163.58,566.8 v3.0 M174.00,566.8 v5.2 M184.43,566.8 v3.0 M194.85,566.8 v5.2 M205.28,566.8 v3.0 M215.70,566.8 v5.2 M226.13,566.8 v3.0 M236.55,566.8 v5.2 M246.98,566.8 v3.0 M257.40,566.8 v5.2 M267.82,566.8 v3.0 M278.25,566.8 v5.2 M288.68,566.8 v3.0 M299.10,566.8 v5.2 M309.52,566.8 v3.0 M319.95,566.8 v5.2 M330.38,566.8 v3.0 M340.80,566.8 v5.2" stroke="#000" stroke-width="1.4" fill="none"/>
<text x="196.00" y="600.50" class="xt" text-anchor="middle">diameter (microns)</text>
<text x="36.70" y="566.10" class="tk" text-anchor="end" textLength="18.10" lengthAdjust="spacingAndGlyphs">0.00</text>
<text x="36.70" y="539.76" class="tk" text-anchor="end" textLength="18.10" lengthAdjust="spacingAndGlyphs">0.01</text>
<text x="36.70" y="513.41" class="tk" text-anchor="end" textLength="18.10" lengthAdjust="spacingAndGlyphs">0.02</text>
<text x="36.70" y="487.07" class="tk" text-anchor="end" textLength="18.10" lengthAdjust="spacingAndGlyphs">0.03</text>
<text x="36.70" y="460.72" class="tk" text-anchor="end" textLength="18.10" lengthAdjust="spacingAndGlyphs">0.04</text>
<text x="36.70" y="434.38" class="tk" text-anchor="end" textLength="18.10" lengthAdjust="spacingAndGlyphs">0.05</text>
<text x="36.70" y="408.03" class="tk" text-anchor="end" textLength="18.10" lengthAdjust="spacingAndGlyphs">0.06</text>
<text x="36.70" y="381.69" class="tk" text-anchor="end" textLength="18.10" lengthAdjust="spacingAndGlyphs">0.07</text>
<text x="36.70" y="355.34" class="tk" text-anchor="end" textLength="18.10" lengthAdjust="spacingAndGlyphs">0.08</text>
<text x="36.70" y="329.00" class="tk" text-anchor="end" textLength="18.10" lengthAdjust="spacingAndGlyphs">0.09</text>
<path d="M45,563.40 h-5.2 M45,537.06 h-5.2 M45,510.71 h-5.2 M45,484.37 h-5.2 M45,458.02 h-5.2 M45,431.68 h-5.2 M45,405.33 h-5.2 M45,378.99 h-5.2 M45,352.64 h-5.2 M45,326.30 h-5.2 M45,550.23 h-3.0 M45,523.88 h-3.0 M45,497.54 h-3.0 M45,471.19 h-3.0 M45,444.85 h-3.0 M45,418.51 h-3.0 M45,392.16 h-3.0 M45,365.82 h-3.0 M45,339.47 h-3.0" stroke="#000" stroke-width="1.4" fill="none"/>
<text x="354.50" y="566.30" class="tk" textLength="12.93" lengthAdjust="spacingAndGlyphs">0.0</text>
<text x="354.50" y="542.52" class="tk" textLength="12.93" lengthAdjust="spacingAndGlyphs">0.1</text>
<text x="354.50" y="518.74" class="tk" textLength="12.93" lengthAdjust="spacingAndGlyphs">0.2</text>
<text x="354.50" y="494.96" class="tk" textLength="12.93" lengthAdjust="spacingAndGlyphs">0.3</text>
<text x="354.50" y="471.18" class="tk" textLength="12.93" lengthAdjust="spacingAndGlyphs">0.4</text>
<text x="354.50" y="447.40" class="tk" textLength="12.93" lengthAdjust="spacingAndGlyphs">0.5</text>
<text x="354.50" y="423.62" class="tk" textLength="12.93" lengthAdjust="spacingAndGlyphs">0.6</text>
<text x="354.50" y="399.84" class="tk" textLength="12.93" lengthAdjust="spacingAndGlyphs">0.7</text>
<text x="354.50" y="376.06" class="tk" textLength="12.93" lengthAdjust="spacingAndGlyphs">0.8</text>
<text x="354.50" y="352.28" class="tk" textLength="12.93" lengthAdjust="spacingAndGlyphs">0.9</text>
<text x="354.50" y="328.50" class="tk" textLength="12.93" lengthAdjust="spacingAndGlyphs">1.0</text>
<path d="M347,563.50 h5.2 M347,551.61 h3.0 M347,539.72 h5.2 M347,527.83 h3.0 M347,515.94 h5.2 M347,504.05 h3.0 M347,492.16 h5.2 M347,480.27 h3.0 M347,468.38 h5.2 M347,456.49 h3.0 M347,444.60 h5.2 M347,432.71 h3.0 M347,420.82 h5.2 M347,408.93 h3.0 M347,397.04 h5.2 M347,385.15 h3.0 M347,373.26 h5.2 M347,361.37 h3.0 M347,349.48 h5.2 M347,337.59 h3.0 M347,325.70 h5.2" stroke="#000" stroke-width="1.4" fill="none"/>
<text x="11.10" y="451.90" class="tt" text-anchor="middle" transform="rotate(-90 11.10 451.90)">frequency</text>
<text x="381.40" y="439.70" class="tt" text-anchor="middle" transform="rotate(-90 381.40 439.70)">cumulative frequency</text>
<path d="M48.90,563.39 L50.31,563.39 L51.71,563.39 L53.12,563.39 L54.53,563.39 L55.94,563.39 L57.34,563.38 L58.75,563.38 L60.16,563.38 L61.57,563.37 L62.97,563.37 L64.38,563.36 L65.79,563.36 L67.20,563.35 L68.60,563.34 L70.01,563.33 L71.42,563.32 L72.83,563.31 L74.23,563.29 L75.64,563.27 L77.05,563.25 L78.45,563.22 L79.86,563.20 L81.27,563.16 L82.68,563.13 L84.08,563.08 L85.49,563.04 L86.90,562.98 L88.31,562.92 L89.71,562.85 L91.12,562.77 L92.53,562.67 L93.94,562.57 L95.34,562.45 L96.75,562.32 L98.16,562.17 L99.57,562.01 L100.97,561.82 L102.38,561.61 L103.79,561.38 L105.19,561.12 L106.60,560.83 L108.01,560.51 L109.42,560.16 L110.82,559.76 L112.23,559.33 L113.64,558.85 L115.05,558.32 L116.45,557.74 L117.86,557.10 L119.27,556.40 L120.68,555.64 L122.08,554.81 L123.49,553.90 L124.90,552.91 L126.31,551.84 L127.71,550.68 L129.12,549.43 L130.53,548.08 L131.94,546.62 L133.34,545.05 L134.75,543.37 L136.16,541.57 L137.56,539.64 L138.97,537.58 L140.38,535.39 L141.79,533.06 L143.19,530.59 L144.60,527.98 L146.01,525.22 L147.42,522.30 L148.82,519.24 L150.23,516.01 L151.64,512.64 L153.05,509.11 L154.45,505.42 L155.86,501.59 L157.27,497.60 L158.68,493.47 L160.08,489.19 L161.49,484.78 L162.90,480.23 L164.30,475.56 L165.71,470.78 L167.12,465.88 L168.53,460.89 L169.93,455.82 L171.34,450.67 L172.75,445.46 L174.16,440.21 L175.56,434.92 L176.97,429.62 L178.38,424.32 L179.79,419.04 L181.19,413.79 L182.60,408.60 L184.01,403.47 L185.42,398.44 L186.82,393.52 L188.23,388.73 L189.64,384.08 L191.04,379.60 L192.45,375.31 L193.86,371.22 L195.27,367.35 L196.67,363.71 L198.08,360.33 L199.49,357.22 L200.90,354.39 L202.30,351.85 L203.71,349.63 L205.12,347.71 L206.53,346.13 L207.93,344.87 L209.34,343.96 L210.75,343.39 L212.16,343.16 L213.56,343.29 L214.97,343.76 L216.38,344.57 L217.79,345.72 L219.19,347.21 L220.60,349.03 L222.01,351.16 L223.41,353.61 L224.82,356.35 L226.23,359.38 L227.64,362.68 L229.04,366.25 L230.45,370.05 L231.86,374.07 L233.27,378.31 L234.67,382.74 L236.08,387.33 L237.49,392.09 L238.90,396.97 L240.30,401.97 L241.71,407.07 L243.12,412.24 L244.53,417.48 L245.93,422.75 L247.34,428.05 L248.75,433.35 L250.15,438.65 L251.56,443.91 L252.97,449.13 L254.38,454.30 L255.78,459.40 L257.19,464.41 L258.60,469.34 L260.01,474.15 L261.41,478.86 L262.82,483.44 L264.23,487.90 L265.64,492.21 L267.04,496.39 L268.45,500.42 L269.86,504.30 L271.27,508.03 L272.67,511.61 L274.08,515.03 L275.49,518.30 L276.89,521.41 L278.30,524.37 L279.71,527.18 L281.12,529.83 L282.52,532.35 L283.93,534.72 L285.34,536.95 L286.75,539.04 L288.15,541.01 L289.56,542.85 L290.97,544.56 L292.38,546.17 L293.78,547.66 L295.19,549.04 L296.60,550.32 L298.01,551.51 L299.41,552.61 L300.82,553.62 L302.23,554.55 L303.63,555.40 L305.04,556.18 L306.45,556.90 L307.86,557.56 L309.26,558.15 L310.67,558.70 L312.08,559.19 L313.49,559.64 L314.89,560.04 L316.30,560.41 L317.71,560.74 L319.12,561.04 L320.52,561.31 L321.93,561.55 L323.34,561.76 L324.75,561.95 L326.15,562.13 L327.56,562.28 L328.97,562.42 L330.38,562.54" fill="none" stroke="#000" stroke-width="1.35"/>
<path d="M48.90,563.50 L50.32,563.50 L51.74,563.50 L53.15,563.50 L54.57,563.50 L55.99,563.50 L57.41,563.50 L58.82,563.50 L60.24,563.50 L61.66,563.50 L63.08,563.50 L64.50,563.50 L65.91,563.50 L67.33,563.49 L68.75,563.49 L70.17,563.49 L71.58,563.49 L73.00,563.49 L74.42,563.49 L75.84,563.49 L77.26,563.48 L78.67,563.48 L80.09,563.48 L81.51,563.47 L82.93,563.47 L84.34,563.46 L85.76,563.46 L87.18,563.45 L88.60,563.44 L90.02,563.43 L91.43,563.42 L92.85,563.41 L94.27,563.40 L95.69,563.38 L97.11,563.36 L98.52,563.34 L99.94,563.32 L101.36,563.29 L102.78,563.26 L104.19,563.23 L105.61,563.19 L107.03,563.15 L108.45,563.10 L109.87,563.04 L111.28,562.98 L112.70,562.91 L114.12,562.84 L115.54,562.75 L116.95,562.65 L118.37,562.55 L119.79,562.43 L121.21,562.30 L122.63,562.15 L124.04,561.99 L125.46,561.81 L126.88,561.61 L128.30,561.40 L129.71,561.16 L131.13,560.89 L132.55,560.61 L133.97,560.29 L135.39,559.95 L136.80,559.57 L138.22,559.16 L139.64,558.72 L141.06,558.24 L142.47,557.72 L143.89,557.15 L145.31,556.54 L146.73,555.88 L148.15,555.17 L149.56,554.41 L150.98,553.59 L152.40,552.72 L153.82,551.78 L155.24,550.78 L156.65,549.71 L158.07,548.57 L159.49,547.36 L160.91,546.07 L162.32,544.71 L163.74,543.27 L165.16,541.75 L166.58,540.14 L168.00,538.45 L169.41,536.68 L170.83,534.81 L172.25,532.86 L173.67,530.81 L175.08,528.67 L176.50,526.44 L177.92,524.12 L179.34,521.71 L180.76,519.21 L182.17,516.61 L183.59,513.93 L185.01,511.15 L186.43,508.29 L187.84,505.35 L189.26,502.32 L190.68,499.21 L192.10,496.03 L193.52,492.77 L194.93,489.44 L196.35,486.04 L197.77,482.59 L199.19,479.07 L200.60,475.51 L202.02,471.89 L203.44,468.23 L204.86,464.54 L206.28,460.82 L207.69,457.06 L209.11,453.29 L210.53,449.51 L211.95,445.72 L213.36,441.92 L214.78,438.13 L216.20,434.35 L217.62,430.59 L219.04,426.85 L220.45,423.13 L221.87,419.45 L223.29,415.81 L224.71,412.22 L226.13,408.67 L227.54,405.18 L228.96,401.75 L230.38,398.38 L231.80,395.08 L233.21,391.85 L234.63,388.70 L236.05,385.62 L237.47,382.63 L238.89,379.72 L240.30,376.89 L241.72,374.16 L243.14,371.51 L244.56,368.95 L245.97,366.48 L247.39,364.11 L248.81,361.83 L250.23,359.64 L251.65,357.54 L253.06,355.53 L254.48,353.61 L255.90,351.78 L257.32,350.04 L258.73,348.39 L260.15,346.81 L261.57,345.33 L262.99,343.92 L264.41,342.59 L265.82,341.33 L267.24,340.15 L268.66,339.04 L270.08,338.00 L271.49,337.03 L272.91,336.11 L274.33,335.26 L275.75,334.47 L277.17,333.73 L278.58,333.04 L280.00,332.40 L281.42,331.81 L282.84,331.26 L284.25,330.76 L285.67,330.29 L287.09,329.86 L288.51,329.47 L289.93,329.11 L291.34,328.78 L292.76,328.47 L294.18,328.20 L295.60,327.94 L297.01,327.71 L298.43,327.50 L299.85,327.31 L301.27,327.14 L302.69,326.99 L304.10,326.85 L305.52,326.72 L306.94,326.61 L308.36,326.50 L309.78,326.41 L311.19,326.33 L312.61,326.26 L314.03,326.19 L315.45,326.13 L316.86,326.08 L318.28,326.03 L319.70,325.99 L321.12,325.96 L322.54,325.92 L323.95,325.90 L325.37,325.87 L326.79,325.85 L328.21,325.83 L329.62,325.81 L331.04,325.80 L332.46,325.78" fill="none" stroke="#000" stroke-width="1.35" stroke-dasharray="4 2.6"/>
<circle cx="48.80" cy="563.60" r="2.15" fill="none" stroke="#000" stroke-width="1.4"/>
<circle cx="63.80" cy="563.60" r="2.15" fill="none" stroke="#000" stroke-width="1.4"/>
<circle cx="70.10" cy="563.60" r="2.15" fill="none" stroke="#000" stroke-width="1.4"/>
<circle cx="82.60" cy="563.60" r="2.15" fill="none" stroke="#000" stroke-width="1.4"/>
<circle cx="96.40" cy="563.60" r="2.15" fill="none" stroke="#000" stroke-width="1.4"/>
<circle cx="115.90" cy="551.00" r="2.15" fill="none" stroke="#000" stroke-width="1.4"/>
<circle cx="131.00" cy="532.70" r="2.15" fill="none" stroke="#000" stroke-width="1.4"/>
<circle cx="144.00" cy="520.20" r="2.15" fill="none" stroke="#000" stroke-width="1.4"/>
<circle cx="154.80" cy="501.40" r="2.15" fill="none" stroke="#000" stroke-width="1.4"/>
<circle cx="165.30" cy="467.60" r="2.15" fill="none" stroke="#000" stroke-width="1.4"/>
<circle cx="174.10" cy="433.50" r="2.15" fill="none" stroke="#000" stroke-width="1.4"/>
<circle cx="182.80" cy="412.00" r="2.15" fill="none" stroke="#000" stroke-width="1.4"/>
<circle cx="191.20" cy="389.80" r="2.15" fill="none" stroke="#000" stroke-width="1.4"/>
<circle cx="198.90" cy="365.30" r="2.15" fill="none" stroke="#000" stroke-width="1.4"/>
<circle cx="206.10" cy="349.60" r="2.15" fill="none" stroke="#000" stroke-width="1.4"/>
<circle cx="212.90" cy="343.20" r="2.15" fill="none" stroke="#000" stroke-width="1.4"/>
<circle cx="219.80" cy="346.40" r="2.15" fill="none" stroke="#000" stroke-width="1.4"/>
<circle cx="226.30" cy="355.80" r="2.15" fill="none" stroke="#000" stroke-width="1.4"/>
<circle cx="232.60" cy="368.30" r="2.15" fill="none" stroke="#000" stroke-width="1.4"/>
<circle cx="238.60" cy="377.80" r="2.15" fill="none" stroke="#000" stroke-width="1.4"/>
<circle cx="244.40" cy="423.80" r="2.15" fill="none" stroke="#000" stroke-width="1.4"/>
<circle cx="250.20" cy="441.50" r="2.15" fill="none" stroke="#000" stroke-width="1.4"/>
<circle cx="255.60" cy="454.90" r="2.15" fill="none" stroke="#000" stroke-width="1.4"/>
<circle cx="260.90" cy="501.80" r="2.15" fill="none" stroke="#000" stroke-width="1.4"/>
<circle cx="285.90" cy="526.30" r="2.15" fill="none" stroke="#000" stroke-width="1.4"/>
<circle cx="308.70" cy="532.50" r="2.15" fill="none" stroke="#000" stroke-width="1.4"/>
<circle cx="328.90" cy="563.60" r="2.15" fill="none" stroke="#000" stroke-width="1.4"/>
<circle cx="332.30" cy="563.60" r="2.15" fill="none" stroke="#000" stroke-width="1.4"/>
<circle cx="67.60" cy="333.80" r="1.9" fill="none" stroke="#000" stroke-width="1.4"/>
<path d="M55.00,348.10 H80.60" stroke="#000" stroke-width="1.35"/>
<path d="M53.80,365.60 H80.60" stroke="#000" stroke-width="1.35" stroke-dasharray="3.2 1.9"/>
<text x="83.80" y="337.80" class="lg">measurement</text>
<text x="83.80" y="351.80" class="lg">Gaussian</text>
<text x="82.60" y="369.30" class="lg">cumulative</text>
<text x="281.00" y="363.60" class="lb">Ag-NaOH</text>
<rect x="455.5" y="321" width="302.50" height="245.70" fill="none" stroke="#000" stroke-width="1.6"/>
<text x="458.60" y="582.30" class="tk" text-anchor="middle" textLength="5.17" lengthAdjust="spacingAndGlyphs">0</text>
<text x="479.70" y="582.30" class="tk" text-anchor="middle" textLength="10.34" lengthAdjust="spacingAndGlyphs">50</text>
<text x="500.80" y="582.30" class="tk" text-anchor="middle" textLength="15.51" lengthAdjust="spacingAndGlyphs">100</text>
<text x="521.90" y="582.30" class="tk" text-anchor="middle" textLength="15.51" lengthAdjust="spacingAndGlyphs">150</text>
<text x="543.00" y="582.30" class="tk" text-anchor="middle" textLength="15.51" lengthAdjust="spacingAndGlyphs">200</text>
<text x="564.10" y="582.30" class="tk" text-anchor="middle" textLength="15.51" lengthAdjust="spacingAndGlyphs">250</text>
<text x="585.20" y="582.30" class="tk" text-anchor="middle" textLength="15.51" lengthAdjust="spacingAndGlyphs">300</text>
<text x="606.30" y="582.30" class="tk" text-anchor="middle" textLength="15.51" lengthAdjust="spacingAndGlyphs">350</text>
<text x="627.40" y="582.30" class="tk" text-anchor="middle" textLength="15.51" lengthAdjust="spacingAndGlyphs">400</text>
<text x="648.50" y="582.30" class="tk" text-anchor="middle" textLength="15.51" lengthAdjust="spacingAndGlyphs">450</text>
<text x="669.60" y="582.30" class="tk" text-anchor="middle" textLength="15.51" lengthAdjust="spacingAndGlyphs">500</text>
<text x="690.70" y="582.30" class="tk" text-anchor="middle" textLength="15.51" lengthAdjust="spacingAndGlyphs">550</text>
<text x="711.80" y="582.30" class="tk" text-anchor="middle" textLength="15.51" lengthAdjust="spacingAndGlyphs">600</text>
<text x="732.90" y="582.30" class="tk" text-anchor="middle" textLength="15.51" lengthAdjust="spacingAndGlyphs">650</text>
<text x="754.00" y="582.30" class="tk" text-anchor="middle" textLength="15.51" lengthAdjust="spacingAndGlyphs">700</text>
<path d="M458.60,566.7 v5.2 M469.15,566.7 v3.0 M479.70,566.7 v5.2 M490.25,566.7 v3.0 M500.80,566.7 v5.2 M511.35,566.7 v3.0 M521.90,566.7 v5.2 M532.45,566.7 v3.0 M543.00,566.7 v5.2 M553.55,566.7 v3.0 M564.10,566.7 v5.2 M574.65,566.7 v3.0 M585.20,566.7 v5.2 M595.75,566.7 v3.0 M606.30,566.7 v5.2 M616.85,566.7 v3.0 M627.40,566.7 v5.2 M637.95,566.7 v3.0 M648.50,566.7 v5.2 M659.05,566.7 v3.0 M669.60,566.7 v5.2 M680.15,566.7 v3.0 M690.70,566.7 v5.2 M701.25,566.7 v3.0 M711.80,566.7 v5.2 M722.35,566.7 v3.0 M732.90,566.7 v5.2 M743.45,566.7 v3.0 M754.00,566.7 v5.2" stroke="#000" stroke-width="1.4" fill="none"/>
<text x="606.75" y="600.40" class="xt" text-anchor="middle">diameter (microns)</text>
<text x="447.20" y="566.20" class="tk" text-anchor="end" textLength="18.10" lengthAdjust="spacingAndGlyphs">0.00</text>
<text x="447.20" y="539.81" class="tk" text-anchor="end" textLength="18.10" lengthAdjust="spacingAndGlyphs">0.01</text>
<text x="447.20" y="513.42" class="tk" text-anchor="end" textLength="18.10" lengthAdjust="spacingAndGlyphs">0.02</text>
<text x="447.20" y="487.03" class="tk" text-anchor="end" textLength="18.10" lengthAdjust="spacingAndGlyphs">0.03</text>
<text x="447.20" y="460.64" class="tk" text-anchor="end" textLength="18.10" lengthAdjust="spacingAndGlyphs">0.04</text>
<text x="447.20" y="434.26" class="tk" text-anchor="end" textLength="18.10" lengthAdjust="spacingAndGlyphs">0.05</text>
<text x="447.20" y="407.87" class="tk" text-anchor="end" textLength="18.10" lengthAdjust="spacingAndGlyphs">0.06</text>
<text x="447.20" y="381.48" class="tk" text-anchor="end" textLength="18.10" lengthAdjust="spacingAndGlyphs">0.07</text>
<text x="447.20" y="355.09" class="tk" text-anchor="end" textLength="18.10" lengthAdjust="spacingAndGlyphs">0.08</text>
<text x="447.20" y="328.70" class="tk" text-anchor="end" textLength="18.10" lengthAdjust="spacingAndGlyphs">0.09</text>
<path d="M455.5,563.50 h-5.2 M455.5,537.11 h-5.2 M455.5,510.72 h-5.2 M455.5,484.33 h-5.2 M455.5,457.94 h-5.2 M455.5,431.56 h-5.2 M455.5,405.17 h-5.2 M455.5,378.78 h-5.2 M455.5,352.39 h-5.2 M455.5,326.00 h-5.2 M455.5,550.31 h-3.0 M455.5,523.92 h-3.0 M455.5,497.53 h-3.0 M455.5,471.14 h-3.0 M455.5,444.75 h-3.0 M455.5,418.36 h-3.0 M455.5,391.97 h-3.0 M455.5,365.58 h-3.0 M455.5,339.19 h-3.0" stroke="#000" stroke-width="1.4" fill="none"/>
<text x="765.50" y="566.40" class="tk" textLength="12.93" lengthAdjust="spacingAndGlyphs">0.0</text>
<text x="765.50" y="542.64" class="tk" textLength="12.93" lengthAdjust="spacingAndGlyphs">0.1</text>
<text x="765.50" y="518.88" class="tk" textLength="12.93" lengthAdjust="spacingAndGlyphs">0.2</text>
<text x="765.50" y="495.12" class="tk" textLength="12.93" lengthAdjust="spacingAndGlyphs">0.3</text>
<text x="765.50" y="471.36" class="tk" textLength="12.93" lengthAdjust="spacingAndGlyphs">0.4</text>
<text x="765.50" y="447.60" class="tk" textLength="12.93" lengthAdjust="spacingAndGlyphs">0.5</text>
<text x="765.50" y="423.84" class="tk" textLength="12.93" lengthAdjust="spacingAndGlyphs">0.6</text>
<text x="765.50" y="400.08" class="tk" textLength="12.93" lengthAdjust="spacingAndGlyphs">0.7</text>
<text x="765.50" y="376.32" class="tk" textLength="12.93" lengthAdjust="spacingAndGlyphs">0.8</text>
<text x="765.50" y="352.56" class="tk" textLength="12.93" lengthAdjust="spacingAndGlyphs">0.9</text>
<text x="765.50" y="328.80" class="tk" textLength="12.93" lengthAdjust="spacingAndGlyphs">1.0</text>
<path d="M758,563.60 h5.2 M758,551.72 h3.0 M758,539.84 h5.2 M758,527.96 h3.0 M758,516.08 h5.2 M758,504.20 h3.0 M758,492.32 h5.2 M758,480.44 h3.0 M758,468.56 h5.2 M758,456.68 h3.0 M758,444.80 h5.2 M758,432.92 h3.0 M758,421.04 h5.2 M758,409.16 h3.0 M758,397.28 h5.2 M758,385.40 h3.0 M758,373.52 h5.2 M758,361.64 h3.0 M758,349.76 h5.2 M758,337.88 h3.0 M758,326.00 h5.2" stroke="#000" stroke-width="1.4" fill="none"/>
<text x="421.60" y="451.85" class="tt" text-anchor="middle" transform="rotate(-90 421.60 451.85)">frequency</text>
<text x="792.90" y="436.90" class="tt" text-anchor="middle" transform="rotate(-90 792.90 436.90)">cumulative frequency</text>
<path d="M458.60,563.49 L460.02,563.49 L461.45,563.49 L462.87,563.49 L464.30,563.48 L465.72,563.48 L467.15,563.48 L468.57,563.47 L469.99,563.47 L471.42,563.46 L472.84,563.46 L474.27,563.45 L475.69,563.44 L477.12,563.43 L478.54,563.42 L479.96,563.41 L481.39,563.39 L482.81,563.37 L484.24,563.35 L485.66,563.33 L487.09,563.30 L488.51,563.27 L489.93,563.24 L491.36,563.20 L492.78,563.15 L494.21,563.10 L495.63,563.04 L497.05,562.98 L498.48,562.90 L499.90,562.82 L501.33,562.72 L502.75,562.62 L504.18,562.49 L505.60,562.36 L507.02,562.21 L508.45,562.04 L509.87,561.85 L511.30,561.64 L512.72,561.40 L514.15,561.14 L515.57,560.85 L516.99,560.53 L518.42,560.18 L519.84,559.79 L521.27,559.35 L522.69,558.88 L524.12,558.36 L525.54,557.79 L526.96,557.17 L528.39,556.48 L529.81,555.74 L531.24,554.93 L532.66,554.05 L534.09,553.10 L535.51,552.06 L536.93,550.94 L538.36,549.74 L539.78,548.44 L541.21,547.04 L542.63,545.54 L544.06,543.94 L545.48,542.22 L546.90,540.38 L548.33,538.43 L549.75,536.35 L551.18,534.14 L552.60,531.80 L554.02,529.33 L555.45,526.72 L556.87,523.96 L558.30,521.07 L559.72,518.03 L561.15,514.85 L562.57,511.52 L563.99,508.05 L565.42,504.44 L566.84,500.69 L568.27,496.80 L569.69,492.77 L571.12,488.61 L572.54,484.33 L573.96,479.93 L575.39,475.42 L576.81,470.80 L578.24,466.09 L579.66,461.30 L581.09,456.42 L582.51,451.49 L583.93,446.50 L585.36,441.48 L586.78,436.43 L588.21,431.37 L589.63,426.31 L591.06,421.28 L592.48,416.28 L593.90,411.34 L595.33,406.47 L596.75,401.68 L598.18,397.00 L599.60,392.45 L601.02,388.03 L602.45,383.77 L603.87,379.68 L605.30,375.78 L606.72,372.09 L608.15,368.62 L609.57,365.38 L610.99,362.39 L612.42,359.67 L613.84,357.21 L615.27,355.05 L616.69,353.17 L618.12,351.60 L619.54,350.34 L620.96,349.40 L622.39,348.77 L623.81,348.46 L625.24,348.48 L626.66,348.82 L628.09,349.48 L629.51,350.47 L630.93,351.76 L632.36,353.37 L633.78,355.27 L635.21,357.47 L636.63,359.96 L638.06,362.71 L639.48,365.73 L640.90,368.99 L642.33,372.49 L643.75,376.20 L645.18,380.12 L646.60,384.23 L648.03,388.51 L649.45,392.95 L650.87,397.52 L652.30,402.21 L653.72,407.00 L655.15,411.89 L656.57,416.84 L658.00,421.84 L659.42,426.87 L660.84,431.93 L662.27,436.99 L663.69,442.04 L665.12,447.06 L666.54,452.04 L667.96,456.97 L669.39,461.83 L670.81,466.62 L672.24,471.32 L673.66,475.93 L675.09,480.43 L676.51,484.82 L677.93,489.08 L679.36,493.22 L680.78,497.24 L682.21,501.11 L683.63,504.85 L685.06,508.45 L686.48,511.90 L687.90,515.21 L689.33,518.38 L690.75,521.40 L692.18,524.28 L693.60,527.01 L695.03,529.61 L696.45,532.07 L697.87,534.39 L699.30,536.59 L700.72,538.65 L702.15,540.59 L703.57,542.41 L705.00,544.12 L706.42,545.71 L707.84,547.20 L709.27,548.59 L710.69,549.88 L712.12,551.07 L713.54,552.18 L714.97,553.21 L716.39,554.15 L717.81,555.02 L719.24,555.83 L720.66,556.56 L722.09,557.24 L723.51,557.86 L724.93,558.42 L726.36,558.94 L727.78,559.40 L729.21,559.83 L730.63,560.22 L732.06,560.57 L733.48,560.89 L734.90,561.17 L736.33,561.43 L737.75,561.66 L739.18,561.87 L740.60,562.06 L742.03,562.23 L743.45,562.38" fill="none" stroke="#000" stroke-width="1.35"/>
<path d="M458.60,563.60 L460.03,563.60 L461.47,563.60 L462.90,563.60 L464.34,563.60 L465.77,563.60 L467.21,563.60 L468.64,563.60 L470.08,563.60 L471.51,563.60 L472.95,563.60 L474.38,563.59 L475.82,563.59 L477.25,563.59 L478.69,563.59 L480.12,563.59 L481.56,563.59 L482.99,563.59 L484.43,563.58 L485.86,563.58 L487.30,563.58 L488.73,563.57 L490.17,563.57 L491.60,563.56 L493.04,563.56 L494.47,563.55 L495.90,563.54 L497.34,563.54 L498.77,563.53 L500.21,563.52 L501.64,563.50 L503.08,563.49 L504.51,563.47 L505.95,563.45 L507.38,563.43 L508.82,563.41 L510.25,563.38 L511.69,563.35 L513.12,563.31 L514.56,563.27 L515.99,563.23 L517.43,563.18 L518.86,563.12 L520.30,563.06 L521.73,562.99 L523.17,562.91 L524.60,562.82 L526.04,562.73 L527.47,562.62 L528.91,562.50 L530.34,562.37 L531.77,562.22 L533.21,562.06 L534.64,561.88 L536.08,561.69 L537.51,561.47 L538.95,561.24 L540.38,560.98 L541.82,560.70 L543.25,560.39 L544.69,560.06 L546.12,559.69 L547.56,559.29 L548.99,558.86 L550.43,558.40 L551.86,557.89 L553.30,557.35 L554.73,556.76 L556.17,556.13 L557.60,555.44 L559.04,554.71 L560.47,553.93 L561.91,553.09 L563.34,552.19 L564.78,551.23 L566.21,550.21 L567.64,549.13 L569.08,547.97 L570.51,546.75 L571.95,545.45 L573.38,544.08 L574.82,542.64 L576.25,541.11 L577.69,539.51 L579.12,537.82 L580.56,536.05 L581.99,534.19 L583.43,532.25 L584.86,530.22 L586.30,528.11 L587.73,525.90 L589.17,523.61 L590.60,521.23 L592.04,518.77 L593.47,516.22 L594.91,513.58 L596.34,510.86 L597.78,508.05 L599.21,505.17 L600.65,502.20 L602.08,499.16 L603.51,496.05 L604.95,492.87 L606.38,489.62 L607.82,486.30 L609.25,482.93 L610.69,479.50 L612.12,476.03 L613.56,472.50 L614.99,468.94 L616.43,465.34 L617.86,461.71 L619.30,458.05 L620.73,454.37 L622.17,450.68 L623.60,446.98 L625.04,443.27 L626.47,439.57 L627.91,435.88 L629.34,432.20 L630.78,428.54 L632.21,424.90 L633.65,421.29 L635.08,417.72 L636.52,414.19 L637.95,410.71 L639.38,407.27 L640.82,403.89 L642.25,400.56 L643.69,397.30 L645.12,394.11 L646.56,390.98 L647.99,387.93 L649.43,384.95 L650.86,382.05 L652.30,379.23 L653.73,376.50 L655.17,373.84 L656.60,371.28 L658.04,368.79 L659.47,366.40 L660.91,364.09 L662.34,361.88 L663.78,359.75 L665.21,357.70 L666.65,355.75 L668.08,353.87 L669.52,352.09 L670.95,350.39 L672.39,348.77 L673.82,347.23 L675.25,345.77 L676.69,344.38 L678.12,343.07 L679.56,341.84 L680.99,340.67 L682.43,339.57 L683.86,338.54 L685.30,337.57 L686.73,336.67 L688.17,335.82 L689.60,335.02 L691.04,334.28 L692.47,333.59 L693.91,332.95 L695.34,332.35 L696.78,331.80 L698.21,331.29 L699.65,330.82 L701.08,330.38 L702.52,329.98 L703.95,329.61 L705.39,329.26 L706.82,328.95 L708.26,328.67 L709.69,328.40 L711.12,328.17 L712.56,327.95 L713.99,327.75 L715.43,327.57 L716.86,327.41 L718.30,327.26 L719.73,327.12 L721.17,327.00 L722.60,326.89 L724.04,326.79 L725.47,326.70 L726.91,326.62 L728.34,326.55 L729.78,326.49 L731.21,326.43 L732.65,326.38 L734.08,326.34 L735.52,326.30 L736.95,326.26 L738.39,326.23 L739.82,326.20 L741.26,326.17 L742.69,326.15 L744.13,326.13 L745.56,326.12" fill="none" stroke="#000" stroke-width="1.35" stroke-dasharray="4 2.6"/>
<circle cx="459.50" cy="563.60" r="2.15" fill="none" stroke="#000" stroke-width="1.4"/>
<circle cx="474.50" cy="563.60" r="2.15" fill="none" stroke="#000" stroke-width="1.4"/>
<circle cx="480.60" cy="563.60" r="2.15" fill="none" stroke="#000" stroke-width="1.4"/>
<circle cx="493.10" cy="563.60" r="2.15" fill="none" stroke="#000" stroke-width="1.4"/>
<circle cx="506.90" cy="563.60" r="2.15" fill="none" stroke="#000" stroke-width="1.4"/>
<circle cx="526.90" cy="559.80" r="2.15" fill="none" stroke="#000" stroke-width="1.4"/>
<circle cx="541.70" cy="548.50" r="2.15" fill="none" stroke="#000" stroke-width="1.4"/>
<circle cx="554.50" cy="522.00" r="2.15" fill="none" stroke="#000" stroke-width="1.4"/>
<circle cx="565.30" cy="480.10" r="2.15" fill="none" stroke="#000" stroke-width="1.4"/>
<circle cx="575.80" cy="469.30" r="2.15" fill="none" stroke="#000" stroke-width="1.4"/>
<circle cx="584.80" cy="439.00" r="2.15" fill="none" stroke="#000" stroke-width="1.4"/>
<circle cx="593.30" cy="419.50" r="2.15" fill="none" stroke="#000" stroke-width="1.4"/>
<circle cx="602.10" cy="399.80" r="2.15" fill="none" stroke="#000" stroke-width="1.4"/>
<circle cx="609.60" cy="379.30" r="2.15" fill="none" stroke="#000" stroke-width="1.4"/>
<circle cx="617.10" cy="357.20" r="2.15" fill="none" stroke="#000" stroke-width="1.4"/>
<circle cx="623.90" cy="362.60" r="2.15" fill="none" stroke="#000" stroke-width="1.4"/>
<circle cx="630.60" cy="354.20" r="2.15" fill="none" stroke="#000" stroke-width="1.4"/>
<circle cx="637.10" cy="362.20" r="2.15" fill="none" stroke="#000" stroke-width="1.4"/>
<circle cx="643.10" cy="394.90" r="2.15" fill="none" stroke="#000" stroke-width="1.4"/>
<circle cx="649.40" cy="384.60" r="2.15" fill="none" stroke="#000" stroke-width="1.4"/>
<circle cx="655.00" cy="402.70" r="2.15" fill="none" stroke="#000" stroke-width="1.4"/>
<circle cx="661.10" cy="427.60" r="2.15" fill="none" stroke="#000" stroke-width="1.4"/>
<circle cx="666.50" cy="455.30" r="2.15" fill="none" stroke="#000" stroke-width="1.4"/>
<circle cx="671.80" cy="472.40" r="2.15" fill="none" stroke="#000" stroke-width="1.4"/>
<circle cx="696.90" cy="521.60" r="2.15" fill="none" stroke="#000" stroke-width="1.4"/>
<circle cx="719.70" cy="549.70" r="2.15" fill="none" stroke="#000" stroke-width="1.4"/>
<circle cx="740.00" cy="563.60" r="2.15" fill="none" stroke="#000" stroke-width="1.4"/>
<circle cx="743.80" cy="563.60" r="2.15" fill="none" stroke="#000" stroke-width="1.4"/>
<circle cx="478.10" cy="333.00" r="1.9" fill="none" stroke="#000" stroke-width="1.4"/>
<path d="M465.00,347.10 H490.60" stroke="#000" stroke-width="1.35"/>
<path d="M463.80,365.60 H490.60" stroke="#000" stroke-width="1.35" stroke-dasharray="3.2 1.9"/>
<text x="493.80" y="337.00" class="lg">measurement</text>
<text x="493.80" y="350.80" class="lg">Gaussian</text>
<text x="493.10" y="369.30" class="lg">cumulative</text>
<text x="711.60" y="367.60" class="lb">resin</text>
<rect x="65.2" y="642" width="301.50" height="244.80" fill="none" stroke="#000" stroke-width="1.6"/>
<text x="69.00" y="902.40" class="tk" text-anchor="middle" textLength="5.17" lengthAdjust="spacingAndGlyphs">0</text>
<text x="89.95" y="902.40" class="tk" text-anchor="middle" textLength="10.34" lengthAdjust="spacingAndGlyphs">50</text>
<text x="110.90" y="902.40" class="tk" text-anchor="middle" textLength="15.51" lengthAdjust="spacingAndGlyphs">100</text>
<text x="131.85" y="902.40" class="tk" text-anchor="middle" textLength="15.51" lengthAdjust="spacingAndGlyphs">150</text>
<text x="152.80" y="902.40" class="tk" text-anchor="middle" textLength="15.51" lengthAdjust="spacingAndGlyphs">200</text>
<text x="173.75" y="902.40" class="tk" text-anchor="middle" textLength="15.51" lengthAdjust="spacingAndGlyphs">250</text>
<text x="194.70" y="902.40" class="tk" text-anchor="middle" textLength="15.51" lengthAdjust="spacingAndGlyphs">300</text>
<text x="215.65" y="902.40" class="tk" text-anchor="middle" textLength="15.51" lengthAdjust="spacingAndGlyphs">350</text>
<text x="236.60" y="902.40" class="tk" text-anchor="middle" textLength="15.51" lengthAdjust="spacingAndGlyphs">400</text>
<text x="257.55" y="902.40" class="tk" text-anchor="middle" textLength="15.51" lengthAdjust="spacingAndGlyphs">450</text>
<text x="278.50" y="902.40" class="tk" text-anchor="middle" textLength="15.51" lengthAdjust="spacingAndGlyphs">500</text>
<text x="299.45" y="902.40" class="tk" text-anchor="middle" textLength="15.51" lengthAdjust="spacingAndGlyphs">550</text>
<text x="320.40" y="902.40" class="tk" text-anchor="middle" textLength="15.51" lengthAdjust="spacingAndGlyphs">600</text>
<text x="341.35" y="902.40" class="tk" text-anchor="middle" textLength="15.51" lengthAdjust="spacingAndGlyphs">650</text>
<text x="362.30" y="902.40" class="tk" text-anchor="middle" textLength="15.51" lengthAdjust="spacingAndGlyphs">700</text>
<path d="M69.00,886.8 v5.2 M79.47,886.8 v3.0 M89.95,886.8 v5.2 M100.43,886.8 v3.0 M110.90,886.8 v5.2 M121.38,886.8 v3.0 M131.85,886.8 v5.2 M142.32,886.8 v3.0 M152.80,886.8 v5.2 M163.28,886.8 v3.0 M173.75,886.8 v5.2 M184.23,886.8 v3.0 M194.70,886.8 v5.2 M205.18,886.8 v3.0 M215.65,886.8 v5.2 M226.13,886.8 v3.0 M236.60,886.8 v5.2 M247.08,886.8 v3.0 M257.55,886.8 v5.2 M268.02,886.8 v3.0 M278.50,886.8 v5.2 M288.98,886.8 v3.0 M299.45,886.8 v5.2 M309.93,886.8 v3.0 M320.40,886.8 v5.2 M330.88,886.8 v3.0 M341.35,886.8 v5.2 M351.83,886.8 v3.0 M362.30,886.8 v5.2" stroke="#000" stroke-width="1.4" fill="none"/>
<text x="215.95" y="920.50" class="xt" text-anchor="middle">diameter (microns)</text>
<text x="56.90" y="886.30" class="tk" text-anchor="end" textLength="28.44" lengthAdjust="spacingAndGlyphs">0.0000</text>
<text x="56.90" y="862.47" class="tk" text-anchor="end" textLength="28.44" lengthAdjust="spacingAndGlyphs">0.0005</text>
<text x="56.90" y="838.64" class="tk" text-anchor="end" textLength="28.44" lengthAdjust="spacingAndGlyphs">0.0010</text>
<text x="56.90" y="814.81" class="tk" text-anchor="end" textLength="28.44" lengthAdjust="spacingAndGlyphs">0.0015</text>
<text x="56.90" y="790.98" class="tk" text-anchor="end" textLength="28.44" lengthAdjust="spacingAndGlyphs">0.0020</text>
<text x="56.90" y="767.15" class="tk" text-anchor="end" textLength="28.44" lengthAdjust="spacingAndGlyphs">0.0025</text>
<text x="56.90" y="743.32" class="tk" text-anchor="end" textLength="28.44" lengthAdjust="spacingAndGlyphs">0.0030</text>
<text x="56.90" y="719.49" class="tk" text-anchor="end" textLength="28.44" lengthAdjust="spacingAndGlyphs">0.0035</text>
<text x="56.90" y="695.66" class="tk" text-anchor="end" textLength="28.44" lengthAdjust="spacingAndGlyphs">0.0040</text>
<text x="56.90" y="671.83" class="tk" text-anchor="end" textLength="28.44" lengthAdjust="spacingAndGlyphs">0.0045</text>
<text x="56.90" y="648.00" class="tk" text-anchor="end" textLength="28.44" lengthAdjust="spacingAndGlyphs">0.0050</text>
<path d="M65.2,883.60 h-5.2 M65.2,859.77 h-5.2 M65.2,835.94 h-5.2 M65.2,812.11 h-5.2 M65.2,788.28 h-5.2 M65.2,764.45 h-5.2 M65.2,740.62 h-5.2 M65.2,716.79 h-5.2 M65.2,692.96 h-5.2 M65.2,669.13 h-5.2 M65.2,645.30 h-5.2 M65.2,871.69 h-3.0 M65.2,847.86 h-3.0 M65.2,824.02 h-3.0 M65.2,800.19 h-3.0 M65.2,776.37 h-3.0 M65.2,752.53 h-3.0 M65.2,728.70 h-3.0 M65.2,704.88 h-3.0 M65.2,681.04 h-3.0 M65.2,657.21 h-3.0" stroke="#000" stroke-width="1.4" fill="none"/>
<text x="24.50" y="764.80" class="tt" text-anchor="middle" transform="rotate(-90 24.50 764.80)">normalized frequency</text>
<path d="M69.00,883.59 L70.42,883.59 L71.85,883.59 L73.27,883.59 L74.70,883.59 L76.12,883.59 L77.55,883.58 L78.97,883.58 L80.40,883.58 L81.82,883.57 L83.25,883.57 L84.67,883.56 L86.10,883.56 L87.52,883.55 L88.94,883.54 L90.37,883.53 L91.79,883.52 L93.22,883.51 L94.64,883.49 L96.07,883.47 L97.49,883.45 L98.92,883.43 L100.34,883.40 L101.77,883.37 L103.19,883.33 L104.62,883.29 L106.04,883.24 L107.46,883.19 L108.89,883.13 L110.31,883.06 L111.74,882.98 L113.16,882.89 L114.59,882.79 L116.01,882.67 L117.44,882.55 L118.86,882.40 L120.29,882.24 L121.71,882.06 L123.13,881.86 L124.56,881.63 L125.98,881.38 L127.41,881.10 L128.83,880.79 L130.26,880.44 L131.68,880.06 L133.11,879.64 L134.53,879.18 L135.96,878.66 L137.38,878.10 L138.81,877.48 L140.23,876.81 L141.65,876.07 L143.08,875.26 L144.50,874.38 L145.93,873.43 L147.35,872.39 L148.78,871.27 L150.20,870.05 L151.63,868.74 L153.05,867.32 L154.48,865.80 L155.90,864.17 L157.33,862.42 L158.75,860.54 L160.17,858.54 L161.60,856.41 L163.02,854.14 L164.45,851.73 L165.87,849.18 L167.30,846.48 L168.72,843.64 L170.15,840.64 L171.57,837.48 L173.00,834.17 L174.42,830.71 L175.85,827.09 L177.27,823.31 L178.69,819.39 L180.12,815.31 L181.54,811.08 L182.97,806.71 L184.39,802.21 L185.82,797.57 L187.24,792.82 L188.67,787.94 L190.09,782.96 L191.52,777.88 L192.94,772.72 L194.36,767.49 L195.79,762.20 L197.21,756.86 L198.64,751.49 L200.06,746.10 L201.49,740.72 L202.91,735.36 L204.34,730.03 L205.76,724.76 L207.19,719.56 L208.61,714.45 L210.04,709.45 L211.46,704.58 L212.88,699.85 L214.31,695.30 L215.73,690.93 L217.16,686.76 L218.58,682.81 L220.01,679.10 L221.43,675.64 L222.86,672.45 L224.28,669.55 L225.71,666.93 L227.13,664.63 L228.56,662.64 L229.98,660.97 L231.40,659.65 L232.83,658.66 L234.25,658.01 L235.68,657.71 L237.10,657.76 L238.53,658.16 L239.95,658.91 L241.38,660.00 L242.80,661.43 L244.23,663.19 L245.65,665.27 L247.08,667.67 L248.50,670.37 L249.92,673.36 L251.35,676.63 L252.77,680.17 L254.20,683.95 L255.62,687.96 L257.05,692.19 L258.47,696.62 L259.90,701.23 L261.32,706.00 L262.75,710.91 L264.17,715.94 L265.59,721.08 L267.02,726.30 L268.44,731.59 L269.87,736.93 L271.29,742.30 L272.72,747.69 L274.14,753.07 L275.57,758.43 L276.99,763.76 L278.42,769.03 L279.84,774.25 L281.27,779.39 L282.69,784.44 L284.11,789.39 L285.54,794.23 L286.96,798.95 L288.39,803.55 L289.81,808.01 L291.24,812.34 L292.66,816.52 L294.09,820.56 L295.51,824.44 L296.94,828.17 L298.36,831.74 L299.79,835.16 L301.21,838.43 L302.63,841.53 L304.06,844.49 L305.48,847.29 L306.91,849.95 L308.33,852.46 L309.76,854.82 L311.18,857.05 L312.61,859.14 L314.03,861.11 L315.46,862.94 L316.88,864.66 L318.31,866.26 L319.73,867.75 L321.15,869.13 L322.58,870.42 L324.00,871.61 L325.43,872.70 L326.85,873.72 L328.28,874.65 L329.70,875.51 L331.13,876.29 L332.55,877.01 L333.98,877.67 L335.40,878.27 L336.82,878.82 L338.25,879.32 L339.67,879.77 L341.10,880.18 L342.52,880.55 L343.95,880.88 L345.37,881.18 L346.80,881.46 L348.22,881.70 L349.65,881.92 L351.07,882.11 L352.50,882.29 L353.92,882.45" fill="none" stroke="#000" stroke-width="1.3"/>
<path d="M69.00,883.59 L70.42,883.59 L71.85,883.59 L73.27,883.59 L74.70,883.58 L76.12,883.58 L77.55,883.57 L78.97,883.57 L80.40,883.56 L81.82,883.56 L83.25,883.55 L84.67,883.54 L86.10,883.53 L87.52,883.52 L88.94,883.51 L90.37,883.49 L91.79,883.47 L93.22,883.45 L94.64,883.43 L96.07,883.40 L97.49,883.37 L98.92,883.33 L100.34,883.29 L101.77,883.24 L103.19,883.19 L104.62,883.13 L106.04,883.06 L107.46,882.98 L108.89,882.89 L110.31,882.78 L111.74,882.67 L113.16,882.54 L114.59,882.39 L116.01,882.23 L117.44,882.04 L118.86,881.84 L120.29,881.60 L121.71,881.35 L123.13,881.06 L124.56,880.74 L125.98,880.39 L127.41,880.00 L128.83,879.56 L130.26,879.09 L131.68,878.56 L133.11,877.98 L134.53,877.35 L135.96,876.65 L137.38,875.89 L138.81,875.06 L140.23,874.15 L141.65,873.17 L143.08,872.10 L144.50,870.94 L145.93,869.68 L147.35,868.33 L148.78,866.87 L150.20,865.30 L151.63,863.61 L153.05,861.81 L154.48,859.87 L155.90,857.81 L157.33,855.61 L158.75,853.27 L160.17,850.79 L161.60,848.16 L163.02,845.38 L164.45,842.45 L165.87,839.37 L167.30,836.12 L168.72,832.72 L170.15,829.17 L171.57,825.45 L173.00,821.58 L174.42,817.56 L175.85,813.39 L177.27,809.07 L178.69,804.62 L180.12,800.02 L181.54,795.31 L182.97,790.47 L184.39,785.52 L185.82,780.47 L187.24,775.34 L188.67,770.12 L190.09,764.85 L191.52,759.52 L192.94,754.16 L194.36,748.79 L195.79,743.41 L197.21,738.05 L198.64,732.72 L200.06,727.45 L201.49,722.24 L202.91,717.12 L204.34,712.12 L205.76,707.24 L207.19,702.51 L208.61,697.95 L210.04,693.57 L211.46,689.40 L212.88,685.45 L214.31,681.74 L215.73,678.28 L217.16,675.10 L218.58,672.20 L220.01,669.59 L221.43,667.30 L222.86,665.33 L224.28,663.69 L225.71,662.39 L227.13,661.43 L228.56,660.82 L229.98,660.56 L231.40,660.65 L232.83,661.10 L234.25,661.90 L235.68,663.04 L237.10,664.52 L238.53,666.34 L239.95,668.48 L241.38,670.93 L242.80,673.70 L244.23,676.75 L245.65,680.08 L247.08,683.67 L248.50,687.51 L249.92,691.58 L251.35,695.87 L252.77,700.34 L254.20,705.00 L255.62,709.81 L257.05,714.75 L258.47,719.82 L259.90,724.99 L261.32,730.23 L262.75,735.54 L264.17,740.88 L265.59,746.26 L267.02,751.64 L268.44,757.00 L269.87,762.35 L271.29,767.65 L272.72,772.89 L274.14,778.06 L275.57,783.16 L276.99,788.15 L278.42,793.04 L279.84,797.82 L281.27,802.47 L282.69,806.99 L284.11,811.38 L285.54,815.62 L286.96,819.71 L288.39,823.65 L289.81,827.44 L291.24,831.07 L292.66,834.54 L294.09,837.86 L295.51,841.02 L296.94,844.02 L298.36,846.87 L299.79,849.57 L301.21,852.12 L302.63,854.53 L304.06,856.79 L305.48,858.92 L306.91,860.91 L308.33,862.78 L309.76,864.52 L311.18,866.14 L312.61,867.66 L314.03,869.06 L315.46,870.36 L316.88,871.56 L318.31,872.67 L319.73,873.70 L321.15,874.64 L322.58,875.51 L324.00,876.30 L325.43,877.03 L326.85,877.69 L328.28,878.30 L329.70,878.85 L331.13,879.35 L332.55,879.80 L333.98,880.21 L335.40,880.58 L336.82,880.91 L338.25,881.22 L339.67,881.49 L341.10,881.73 L342.52,881.95 L343.95,882.14 L345.37,882.32 L346.80,882.47 L348.22,882.61 L349.65,882.73 L351.07,882.84 L352.50,882.94 L353.92,883.02" fill="none" stroke="#000" stroke-width="1.1" stroke-dasharray="1.1 1.3"/>
<path d="M69.00,883.59 L70.42,883.59 L71.85,883.59 L73.27,883.58 L74.70,883.58 L76.12,883.58 L77.55,883.57 L78.97,883.57 L80.40,883.56 L81.82,883.56 L83.25,883.55 L84.67,883.54 L86.10,883.53 L87.52,883.52 L88.94,883.50 L90.37,883.49 L91.79,883.47 L93.22,883.45 L94.64,883.42 L96.07,883.40 L97.49,883.36 L98.92,883.33 L100.34,883.28 L101.77,883.24 L103.19,883.18 L104.62,883.12 L106.04,883.05 L107.46,882.97 L108.89,882.88 L110.31,882.78 L111.74,882.66 L113.16,882.53 L114.59,882.39 L116.01,882.23 L117.44,882.04 L118.86,881.84 L120.29,881.61 L121.71,881.36 L123.13,881.08 L124.56,880.77 L125.98,880.42 L127.41,880.04 L128.83,879.61 L130.26,879.15 L131.68,878.63 L133.11,878.07 L134.53,877.45 L135.96,876.77 L137.38,876.03 L138.81,875.22 L140.23,874.34 L141.65,873.39 L143.08,872.35 L144.50,871.23 L145.93,870.01 L147.35,868.70 L148.78,867.29 L150.20,865.77 L151.63,864.14 L153.05,862.40 L154.48,860.53 L155.90,858.54 L157.33,856.41 L158.75,854.16 L160.17,851.76 L161.60,849.23 L163.02,846.55 L164.45,843.72 L165.87,840.74 L167.30,837.61 L168.72,834.33 L170.15,830.89 L171.57,827.30 L173.00,823.56 L174.42,819.68 L175.85,815.64 L177.27,811.46 L178.69,807.15 L180.12,802.70 L181.54,798.12 L182.97,793.42 L184.39,788.62 L185.82,783.71 L187.24,778.71 L188.67,773.63 L190.09,768.48 L191.52,763.27 L192.94,758.03 L194.36,752.75 L195.79,747.47 L197.21,742.19 L198.64,736.94 L200.06,731.72 L201.49,726.57 L202.91,721.48 L204.34,716.49 L205.76,711.62 L207.19,706.87 L208.61,702.28 L210.04,697.85 L211.46,693.61 L212.88,689.57 L214.31,685.75 L215.73,682.16 L217.16,678.83 L218.58,675.77 L220.01,672.98 L221.43,670.49 L222.86,668.30 L224.28,666.42 L225.71,664.86 L227.13,663.64 L228.56,662.75 L229.98,662.19 L231.40,661.98 L232.83,662.11 L234.25,662.59 L235.68,663.40 L237.10,664.55 L238.53,666.02 L239.95,667.83 L241.38,669.94 L242.80,672.37 L244.23,675.08 L245.65,678.09 L247.08,681.36 L248.50,684.88 L249.92,688.65 L251.35,692.64 L252.77,696.83 L254.20,701.22 L255.62,705.78 L257.05,710.49 L258.47,715.34 L259.90,720.30 L261.32,725.36 L262.75,730.50 L264.17,735.71 L265.59,740.96 L267.02,746.23 L268.44,751.51 L269.87,756.79 L271.29,762.04 L272.72,767.26 L274.14,772.42 L275.57,777.52 L276.99,782.54 L278.42,787.47 L279.84,792.30 L281.27,797.03 L282.69,801.63 L284.11,806.11 L285.54,810.46 L286.96,814.67 L288.39,818.74 L289.81,822.66 L291.24,826.44 L292.66,830.06 L294.09,833.53 L295.51,836.85 L296.94,840.02 L298.36,843.03 L299.79,845.89 L301.21,848.61 L302.63,851.18 L304.06,853.61 L305.48,855.90 L306.91,858.05 L308.33,860.07 L309.76,861.97 L311.18,863.74 L312.61,865.40 L314.03,866.94 L315.46,868.38 L316.88,869.71 L318.31,870.95 L319.73,872.10 L321.15,873.15 L322.58,874.13 L324.00,875.02 L325.43,875.85 L326.85,876.60 L328.28,877.30 L329.70,877.93 L331.13,878.50 L332.55,879.03 L333.98,879.51 L335.40,879.94 L336.82,880.33 L338.25,880.69 L339.67,881.01 L341.10,881.30 L342.52,881.56 L343.95,881.79 L345.37,882.00 L346.80,882.18 L348.22,882.35 L349.65,882.50 L351.07,882.63 L352.50,882.75 L353.92,882.86" fill="none" stroke="#000" stroke-width="1.1" stroke-dasharray="3.5 2.2"/>
<path d="M69.00,883.58 L70.42,883.58 L71.85,883.58 L73.27,883.57 L74.70,883.57 L76.12,883.56 L77.55,883.56 L78.97,883.55 L80.40,883.54 L81.82,883.53 L83.25,883.52 L84.67,883.51 L86.10,883.49 L87.52,883.48 L88.94,883.46 L90.37,883.44 L91.79,883.41 L93.22,883.38 L94.64,883.35 L96.07,883.31 L97.49,883.27 L98.92,883.22 L100.34,883.17 L101.77,883.11 L103.19,883.04 L104.62,882.96 L106.04,882.87 L107.46,882.77 L108.89,882.66 L110.31,882.54 L111.74,882.40 L113.16,882.25 L114.59,882.07 L116.01,881.88 L117.44,881.67 L118.86,881.43 L120.29,881.17 L121.71,880.88 L123.13,880.55 L124.56,880.20 L125.98,879.81 L127.41,879.38 L128.83,878.91 L130.26,878.40 L131.68,877.83 L133.11,877.22 L134.53,876.55 L135.96,875.82 L137.38,875.03 L138.81,874.17 L140.23,873.24 L141.65,872.23 L143.08,871.15 L144.50,869.98 L145.93,868.72 L147.35,867.37 L148.78,865.92 L150.20,864.37 L151.63,862.72 L153.05,860.95 L154.48,859.07 L155.90,857.08 L157.33,854.96 L158.75,852.72 L160.17,850.35 L161.60,847.85 L163.02,845.22 L164.45,842.46 L165.87,839.56 L167.30,836.52 L168.72,833.35 L170.15,830.04 L171.57,826.59 L173.00,823.01 L174.42,819.30 L175.85,815.46 L177.27,811.49 L178.69,807.40 L180.12,803.20 L181.54,798.88 L182.97,794.47 L184.39,789.96 L185.82,785.36 L187.24,780.69 L188.67,775.95 L190.09,771.15 L191.52,766.31 L192.94,761.44 L194.36,756.55 L195.79,751.65 L197.21,746.76 L198.64,741.90 L200.06,737.07 L201.49,732.30 L202.91,727.60 L204.34,722.98 L205.76,718.47 L207.19,714.07 L208.61,709.81 L210.04,705.70 L211.46,701.75 L212.88,697.98 L214.31,694.41 L215.73,691.05 L217.16,687.91 L218.58,685.01 L220.01,682.35 L221.43,679.95 L222.86,677.82 L224.28,675.97 L225.71,674.41 L227.13,673.13 L228.56,672.16 L229.98,671.48 L231.40,671.11 L232.83,671.05 L234.25,671.29 L235.68,671.84 L237.10,672.69 L238.53,673.85 L239.95,675.29 L241.38,677.03 L242.80,679.04 L244.23,681.33 L245.65,683.88 L247.08,686.68 L248.50,689.73 L249.92,693.00 L251.35,696.49 L252.77,700.17 L254.20,704.05 L255.62,708.10 L257.05,712.30 L258.47,716.64 L259.90,721.11 L261.32,725.68 L262.75,730.35 L264.17,735.10 L265.59,739.90 L267.02,744.75 L268.44,749.63 L269.87,754.53 L271.29,759.43 L272.72,764.31 L274.14,769.16 L275.57,773.98 L276.99,778.74 L278.42,783.45 L279.84,788.08 L281.27,792.62 L282.69,797.08 L284.11,801.43 L285.54,805.68 L286.96,809.82 L288.39,813.84 L289.81,817.73 L291.24,821.50 L292.66,825.13 L294.09,828.63 L295.51,832.00 L296.94,835.23 L298.36,838.32 L299.79,841.28 L301.21,844.10 L302.63,846.79 L304.06,849.34 L305.48,851.76 L306.91,854.05 L308.33,856.22 L309.76,858.27 L311.18,860.19 L312.61,862.00 L314.03,863.70 L315.46,865.29 L316.88,866.78 L318.31,868.17 L319.73,869.47 L321.15,870.68 L322.58,871.80 L324.00,872.83 L325.43,873.79 L326.85,874.68 L328.28,875.50 L329.70,876.26 L331.13,876.95 L332.55,877.59 L333.98,878.17 L335.40,878.71 L336.82,879.19 L338.25,879.64 L339.67,880.04 L341.10,880.41 L342.52,880.75 L343.95,881.05 L345.37,881.32 L346.80,881.57 L348.22,881.80 L349.65,882.00 L351.07,882.18 L352.50,882.34 L353.92,882.48" fill="none" stroke="#000" stroke-width="1.1" stroke-dasharray="3 1 1 1"/>
<path d="M80,658.0 H105.1" stroke="#000" stroke-width="1.3"/>
<text x="109.10" y="662.10" class="lg">AlAg</text>
<path d="M80,672.1 H105.1" stroke="#000" stroke-width="1.1" stroke-dasharray="1.1 1.3"/>
<text x="109.10" y="676.20" class="lg">Ag-HCl</text>
<path d="M80,686.1 H105.1" stroke="#000" stroke-width="1.1" stroke-dasharray="3.5 2.2"/>
<text x="109.10" y="690.20" class="lg">Ag-NaOH</text>
<path d="M80,699.7 H105.1" stroke="#000" stroke-width="1.1" stroke-dasharray="3 1 1 1"/>
<text x="109.10" y="703.80" class="lg">resin</text>
<rect x="468.6" y="641" width="302.60" height="246.00" fill="none" stroke="#000" stroke-width="1.6"/>
<text x="472.40" y="902.60" class="tk" text-anchor="middle" textLength="5.17" lengthAdjust="spacingAndGlyphs">0</text>
<text x="493.44" y="902.60" class="tk" text-anchor="middle" textLength="10.34" lengthAdjust="spacingAndGlyphs">50</text>
<text x="514.49" y="902.60" class="tk" text-anchor="middle" textLength="15.51" lengthAdjust="spacingAndGlyphs">100</text>
<text x="535.53" y="902.60" class="tk" text-anchor="middle" textLength="15.51" lengthAdjust="spacingAndGlyphs">150</text>
<text x="556.57" y="902.60" class="tk" text-anchor="middle" textLength="15.51" lengthAdjust="spacingAndGlyphs">200</text>
<text x="577.61" y="902.60" class="tk" text-anchor="middle" textLength="15.51" lengthAdjust="spacingAndGlyphs">250</text>
<text x="598.66" y="902.60" class="tk" text-anchor="middle" textLength="15.51" lengthAdjust="spacingAndGlyphs">300</text>
<text x="619.70" y="902.60" class="tk" text-anchor="middle" textLength="15.51" lengthAdjust="spacingAndGlyphs">350</text>
<text x="640.74" y="902.60" class="tk" text-anchor="middle" textLength="15.51" lengthAdjust="spacingAndGlyphs">400</text>
<text x="661.79" y="902.60" class="tk" text-anchor="middle" textLength="15.51" lengthAdjust="spacingAndGlyphs">450</text>
<text x="682.83" y="902.60" class="tk" text-anchor="middle" textLength="15.51" lengthAdjust="spacingAndGlyphs">500</text>
<text x="703.87" y="902.60" class="tk" text-anchor="middle" textLength="15.51" lengthAdjust="spacingAndGlyphs">550</text>
<text x="724.91" y="902.60" class="tk" text-anchor="middle" textLength="15.51" lengthAdjust="spacingAndGlyphs">600</text>
<text x="745.96" y="902.60" class="tk" text-anchor="middle" textLength="15.51" lengthAdjust="spacingAndGlyphs">650</text>
<text x="767.00" y="902.60" class="tk" text-anchor="middle" textLength="15.51" lengthAdjust="spacingAndGlyphs">700</text>
<path d="M472.40,887 v5.2 M482.92,887 v3.0 M493.44,887 v5.2 M503.96,887 v3.0 M514.49,887 v5.2 M525.01,887 v3.0 M535.53,887 v5.2 M546.05,887 v3.0 M556.57,887 v5.2 M567.09,887 v3.0 M577.61,887 v5.2 M588.14,887 v3.0 M598.66,887 v5.2 M609.18,887 v3.0 M619.70,887 v5.2 M630.22,887 v3.0 M640.74,887 v5.2 M651.26,887 v3.0 M661.79,887 v5.2 M672.31,887 v3.0 M682.83,887 v5.2 M693.35,887 v3.0 M703.87,887 v5.2 M714.39,887 v3.0 M724.91,887 v5.2 M735.44,887 v3.0 M745.96,887 v5.2 M756.48,887 v3.0 M767.00,887 v5.2" stroke="#000" stroke-width="1.4" fill="none"/>
<text x="619.90" y="920.70" class="xt" text-anchor="middle">diameter (microns)</text>
<text x="460.30" y="886.60" class="tk" text-anchor="end" textLength="12.93" lengthAdjust="spacingAndGlyphs">0.0</text>
<text x="460.30" y="862.74" class="tk" text-anchor="end" textLength="12.93" lengthAdjust="spacingAndGlyphs">0.1</text>
<text x="460.30" y="838.88" class="tk" text-anchor="end" textLength="12.93" lengthAdjust="spacingAndGlyphs">0.2</text>
<text x="460.30" y="815.02" class="tk" text-anchor="end" textLength="12.93" lengthAdjust="spacingAndGlyphs">0.3</text>
<text x="460.30" y="791.16" class="tk" text-anchor="end" textLength="12.93" lengthAdjust="spacingAndGlyphs">0.4</text>
<text x="460.30" y="767.30" class="tk" text-anchor="end" textLength="12.93" lengthAdjust="spacingAndGlyphs">0.5</text>
<text x="460.30" y="743.44" class="tk" text-anchor="end" textLength="12.93" lengthAdjust="spacingAndGlyphs">0.6</text>
<text x="460.30" y="719.58" class="tk" text-anchor="end" textLength="12.93" lengthAdjust="spacingAndGlyphs">0.7</text>
<text x="460.30" y="695.72" class="tk" text-anchor="end" textLength="12.93" lengthAdjust="spacingAndGlyphs">0.8</text>
<text x="460.30" y="671.86" class="tk" text-anchor="end" textLength="12.93" lengthAdjust="spacingAndGlyphs">0.9</text>
<text x="460.30" y="648.00" class="tk" text-anchor="end" textLength="12.93" lengthAdjust="spacingAndGlyphs">1.0</text>
<path d="M468.6,883.90 h-5.2 M468.6,860.04 h-5.2 M468.6,836.18 h-5.2 M468.6,812.32 h-5.2 M468.6,788.46 h-5.2 M468.6,764.60 h-5.2 M468.6,740.74 h-5.2 M468.6,716.88 h-5.2 M468.6,693.02 h-5.2 M468.6,669.16 h-5.2 M468.6,645.30 h-5.2 M468.6,871.97 h-3.0 M468.6,848.11 h-3.0 M468.6,824.25 h-3.0 M468.6,800.39 h-3.0 M468.6,776.53 h-3.0 M468.6,752.67 h-3.0 M468.6,728.81 h-3.0 M468.6,704.95 h-3.0 M468.6,681.09 h-3.0 M468.6,657.23 h-3.0" stroke="#000" stroke-width="1.4" fill="none"/>
<text x="442.10" y="765.60" class="tt" text-anchor="middle" transform="rotate(-90 442.10 765.60)">cumulative frequency</text>
<path d="M472.40,883.90 L473.83,883.90 L475.26,883.90 L476.69,883.90 L478.12,883.90 L479.55,883.90 L480.99,883.90 L482.42,883.90 L483.85,883.90 L485.28,883.90 L486.71,883.90 L488.14,883.90 L489.57,883.90 L491.00,883.90 L492.43,883.89 L493.86,883.89 L495.29,883.89 L496.73,883.89 L498.16,883.89 L499.59,883.89 L501.02,883.88 L502.45,883.88 L503.88,883.88 L505.31,883.88 L506.74,883.87 L508.17,883.87 L509.60,883.86 L511.03,883.85 L512.47,883.85 L513.90,883.84 L515.33,883.83 L516.76,883.82 L518.19,883.81 L519.62,883.79 L521.05,883.77 L522.48,883.76 L523.91,883.73 L525.34,883.71 L526.77,883.68 L528.21,883.65 L529.64,883.62 L531.07,883.58 L532.50,883.54 L533.93,883.49 L535.36,883.43 L536.79,883.37 L538.22,883.30 L539.65,883.22 L541.08,883.14 L542.51,883.04 L543.95,882.93 L545.38,882.81 L546.81,882.68 L548.24,882.54 L549.67,882.38 L551.10,882.20 L552.53,882.00 L553.96,881.79 L555.39,881.56 L556.82,881.30 L558.25,881.02 L559.69,880.71 L561.12,880.37 L562.55,880.01 L563.98,879.61 L565.41,879.17 L566.84,878.71 L568.27,878.20 L569.70,877.65 L571.13,877.06 L572.56,876.42 L573.99,875.73 L575.43,875.00 L576.86,874.20 L578.29,873.36 L579.72,872.45 L581.15,871.48 L582.58,870.45 L584.01,869.36 L585.44,868.19 L586.87,866.95 L588.30,865.64 L589.73,864.26 L591.17,862.79 L592.60,861.25 L594.03,859.62 L595.46,857.92 L596.89,856.12 L598.32,854.24 L599.75,852.28 L601.18,850.22 L602.61,848.08 L604.04,845.84 L605.48,843.52 L606.91,841.11 L608.34,838.61 L609.77,836.03 L611.20,833.35 L612.63,830.59 L614.06,827.75 L615.49,824.82 L616.92,821.82 L618.35,818.74 L619.78,815.58 L621.22,812.36 L622.65,809.06 L624.08,805.71 L625.51,802.29 L626.94,798.82 L628.37,795.30 L629.80,791.73 L631.23,788.12 L632.66,784.48 L634.09,780.81 L635.52,777.11 L636.96,773.39 L638.39,769.66 L639.82,765.92 L641.25,762.18 L642.68,758.44 L644.11,754.71 L645.54,751.00 L646.97,747.31 L648.40,743.64 L649.83,740.01 L651.26,736.41 L652.70,732.86 L654.13,729.35 L655.56,725.90 L656.99,722.50 L658.42,719.16 L659.85,715.89 L661.28,712.68 L662.71,709.55 L664.14,706.49 L665.57,703.51 L667.00,700.61 L668.44,697.79 L669.87,695.05 L671.30,692.40 L672.73,689.84 L674.16,687.37 L675.59,684.99 L677.02,682.69 L678.45,680.48 L679.88,678.37 L681.31,676.34 L682.74,674.40 L684.18,672.54 L685.61,670.77 L687.04,669.09 L688.47,667.49 L689.90,665.97 L691.33,664.53 L692.76,663.16 L694.19,661.87 L695.62,660.66 L697.05,659.51 L698.48,658.44 L699.92,657.42 L701.35,656.48 L702.78,655.59 L704.21,654.76 L705.64,653.98 L707.07,653.26 L708.50,652.59 L709.93,651.96 L711.36,651.38 L712.79,650.85 L714.22,650.35 L715.66,649.89 L717.09,649.47 L718.52,649.08 L719.95,648.73 L721.38,648.40 L722.81,648.10 L724.24,647.82 L725.67,647.57 L727.10,647.34 L728.53,647.14 L729.96,646.95 L731.40,646.77 L732.83,646.62 L734.26,646.48 L735.69,646.35 L737.12,646.24 L738.55,646.13 L739.98,646.04 L741.41,645.95 L742.84,645.88 L744.27,645.81 L745.70,645.75 L747.14,645.70 L748.57,645.65 L750.00,645.61 L751.43,645.57 L752.86,645.54 L754.29,645.51 L755.72,645.48 L757.15,645.46 L758.58,645.44" fill="none" stroke="#000" stroke-width="1.3"/>
<path d="M472.40,883.90 L473.83,883.90 L475.26,883.90 L476.69,883.90 L478.12,883.90 L479.55,883.90 L480.99,883.90 L482.42,883.90 L483.85,883.90 L485.28,883.90 L486.71,883.90 L488.14,883.89 L489.57,883.89 L491.00,883.89 L492.43,883.89 L493.86,883.89 L495.29,883.89 L496.73,883.88 L498.16,883.88 L499.59,883.88 L501.02,883.88 L502.45,883.87 L503.88,883.87 L505.31,883.86 L506.74,883.85 L508.17,883.85 L509.60,883.84 L511.03,883.83 L512.47,883.82 L513.90,883.80 L515.33,883.79 L516.76,883.77 L518.19,883.75 L519.62,883.73 L521.05,883.71 L522.48,883.68 L523.91,883.65 L525.34,883.61 L526.77,883.57 L528.21,883.52 L529.64,883.47 L531.07,883.41 L532.50,883.35 L533.93,883.28 L535.36,883.20 L536.79,883.11 L538.22,883.00 L539.65,882.89 L541.08,882.77 L542.51,882.63 L543.95,882.48 L545.38,882.31 L546.81,882.12 L548.24,881.92 L549.67,881.69 L551.10,881.45 L552.53,881.17 L553.96,880.88 L555.39,880.55 L556.82,880.20 L558.25,879.81 L559.69,879.39 L561.12,878.94 L562.55,878.44 L563.98,877.91 L565.41,877.33 L566.84,876.70 L568.27,876.03 L569.70,875.30 L571.13,874.53 L572.56,873.69 L573.99,872.80 L575.43,871.84 L576.86,870.82 L578.29,869.74 L579.72,868.58 L581.15,867.35 L582.58,866.05 L584.01,864.67 L585.44,863.22 L586.87,861.68 L588.30,860.05 L589.73,858.35 L591.17,856.55 L592.60,854.67 L594.03,852.70 L595.46,850.64 L596.89,848.49 L598.32,846.25 L599.75,843.91 L601.18,841.49 L602.61,838.97 L604.04,836.37 L605.48,833.67 L606.91,830.89 L608.34,828.02 L609.77,825.07 L611.20,822.04 L612.63,818.93 L614.06,815.74 L615.49,812.48 L616.92,809.15 L618.35,805.75 L619.78,802.30 L621.22,798.79 L622.65,795.22 L624.08,791.61 L625.51,787.96 L626.94,784.27 L628.37,780.56 L629.80,776.81 L631.23,773.05 L632.66,769.27 L634.09,765.49 L635.52,761.71 L636.96,757.93 L638.39,754.16 L639.82,750.40 L641.25,746.67 L642.68,742.97 L644.11,739.30 L645.54,735.67 L646.97,732.08 L648.40,728.55 L649.83,725.06 L651.26,721.64 L652.70,718.28 L654.13,714.99 L655.56,711.76 L656.99,708.62 L658.42,705.54 L659.85,702.55 L661.28,699.65 L662.71,696.82 L664.14,694.09 L665.57,691.44 L667.00,688.88 L668.44,686.42 L669.87,684.04 L671.30,681.75 L672.73,679.56 L674.16,677.46 L675.59,675.44 L677.02,673.52 L678.45,671.69 L679.88,669.94 L681.31,668.28 L682.74,666.70 L684.18,665.20 L685.61,663.79 L687.04,662.45 L688.47,661.19 L689.90,660.00 L691.33,658.88 L692.76,657.83 L694.19,656.84 L695.62,655.92 L697.05,655.06 L698.48,654.25 L699.92,653.51 L701.35,652.81 L702.78,652.16 L704.21,651.56 L705.64,651.01 L707.07,650.49 L708.50,650.02 L709.93,649.58 L711.36,649.18 L712.79,648.81 L714.22,648.47 L715.66,648.16 L717.09,647.88 L718.52,647.62 L719.95,647.38 L721.38,647.17 L722.81,646.98 L724.24,646.80 L725.67,646.64 L727.10,646.49 L728.53,646.36 L729.96,646.25 L731.40,646.14 L732.83,646.05 L734.26,645.96 L735.69,645.88 L737.12,645.82 L738.55,645.75 L739.98,645.70 L741.41,645.65 L742.84,645.61 L744.27,645.57 L745.70,645.54 L747.14,645.51 L748.57,645.48 L750.00,645.46 L751.43,645.44 L752.86,645.42 L754.29,645.40 L755.72,645.39 L757.15,645.38 L758.58,645.37" fill="none" stroke="#000" stroke-width="1.1" stroke-dasharray="1.1 1.3"/>
<path d="M472.40,883.90 L473.83,883.90 L475.26,883.90 L476.69,883.90 L478.12,883.90 L479.55,883.90 L480.99,883.90 L482.42,883.90 L483.85,883.90 L485.28,883.90 L486.71,883.89 L488.14,883.89 L489.57,883.89 L491.00,883.89 L492.43,883.89 L493.86,883.89 L495.29,883.89 L496.73,883.88 L498.16,883.88 L499.59,883.88 L501.02,883.87 L502.45,883.87 L503.88,883.86 L505.31,883.86 L506.74,883.85 L508.17,883.85 L509.60,883.84 L511.03,883.83 L512.47,883.82 L513.90,883.80 L515.33,883.79 L516.76,883.77 L518.19,883.75 L519.62,883.73 L521.05,883.70 L522.48,883.68 L523.91,883.65 L525.34,883.61 L526.77,883.57 L528.21,883.52 L529.64,883.47 L531.07,883.42 L532.50,883.35 L533.93,883.28 L535.36,883.20 L536.79,883.11 L538.22,883.01 L539.65,882.91 L541.08,882.78 L542.51,882.65 L543.95,882.50 L545.38,882.34 L546.81,882.16 L548.24,881.96 L549.67,881.74 L551.10,881.50 L552.53,881.23 L553.96,880.95 L555.39,880.63 L556.82,880.29 L558.25,879.91 L559.69,879.51 L561.12,879.07 L562.55,878.59 L563.98,878.07 L565.41,877.51 L566.84,876.91 L568.27,876.26 L569.70,875.56 L571.13,874.81 L572.56,874.01 L573.99,873.15 L575.43,872.23 L576.86,871.25 L578.29,870.20 L579.72,869.09 L581.15,867.91 L582.58,866.65 L584.01,865.32 L585.44,863.92 L586.87,862.44 L588.30,860.87 L589.73,859.23 L591.17,857.50 L592.60,855.69 L594.03,853.79 L595.46,851.80 L596.89,849.72 L598.32,847.56 L599.75,845.31 L601.18,842.96 L602.61,840.53 L604.04,838.01 L605.48,835.40 L606.91,832.71 L608.34,829.93 L609.77,827.07 L611.20,824.12 L612.63,821.10 L614.06,818.00 L615.49,814.83 L616.92,811.59 L618.35,808.28 L619.78,804.91 L621.22,801.48 L622.65,798.00 L624.08,794.46 L625.51,790.89 L626.94,787.27 L628.37,783.62 L629.80,779.94 L631.23,776.24 L632.66,772.51 L634.09,768.78 L635.52,765.04 L636.96,761.30 L638.39,757.56 L639.82,753.84 L641.25,750.13 L642.68,746.44 L644.11,742.79 L645.54,739.16 L646.97,735.57 L648.40,732.03 L649.83,728.53 L651.26,725.09 L652.70,721.71 L654.13,718.38 L655.56,715.13 L656.99,711.94 L658.42,708.82 L659.85,705.78 L661.28,702.82 L662.71,699.94 L664.14,697.14 L665.57,694.42 L667.00,691.79 L668.44,689.25 L669.87,686.80 L671.30,684.44 L672.73,682.16 L674.16,679.98 L675.59,677.88 L677.02,675.87 L678.45,673.95 L679.88,672.12 L681.31,670.37 L682.74,668.71 L684.18,667.12 L685.61,665.62 L687.04,664.20 L688.47,662.85 L689.90,661.58 L691.33,660.38 L692.76,659.25 L694.19,658.19 L695.62,657.20 L697.05,656.26 L698.48,655.39 L699.92,654.57 L701.35,653.81 L702.78,653.10 L704.21,652.44 L705.64,651.82 L707.07,651.25 L708.50,650.73 L709.93,650.24 L711.36,649.79 L712.79,649.38 L714.22,649.00 L715.66,648.65 L717.09,648.33 L718.52,648.03 L719.95,647.76 L721.38,647.52 L722.81,647.29 L724.24,647.09 L725.67,646.90 L727.10,646.74 L728.53,646.58 L729.96,646.45 L731.40,646.32 L732.83,646.21 L734.26,646.11 L735.69,646.02 L737.12,645.94 L738.55,645.86 L739.98,645.80 L741.41,645.74 L742.84,645.69 L744.27,645.64 L745.70,645.60 L747.14,645.56 L748.57,645.53 L750.00,645.50 L751.43,645.48 L752.86,645.45 L754.29,645.43 L755.72,645.42 L757.15,645.40 L758.58,645.39" fill="none" stroke="#000" stroke-width="1.1" stroke-dasharray="3.5 2.2"/>
<path d="M472.40,883.90 L473.83,883.90 L475.26,883.90 L476.69,883.90 L478.12,883.90 L479.55,883.90 L480.99,883.90 L482.42,883.89 L483.85,883.89 L485.28,883.89 L486.71,883.89 L488.14,883.89 L489.57,883.89 L491.00,883.89 L492.43,883.88 L493.86,883.88 L495.29,883.88 L496.73,883.88 L498.16,883.87 L499.59,883.87 L501.02,883.86 L502.45,883.86 L503.88,883.85 L505.31,883.84 L506.74,883.83 L508.17,883.82 L509.60,883.81 L511.03,883.80 L512.47,883.78 L513.90,883.77 L515.33,883.75 L516.76,883.72 L518.19,883.70 L519.62,883.67 L521.05,883.64 L522.48,883.61 L523.91,883.57 L525.34,883.52 L526.77,883.47 L528.21,883.42 L529.64,883.36 L531.07,883.29 L532.50,883.21 L533.93,883.13 L535.36,883.04 L536.79,882.93 L538.22,882.82 L539.65,882.69 L541.08,882.55 L542.51,882.40 L543.95,882.23 L545.38,882.05 L546.81,881.85 L548.24,881.62 L549.67,881.38 L551.10,881.12 L552.53,880.83 L553.96,880.52 L555.39,880.17 L556.82,879.80 L558.25,879.40 L559.69,878.97 L561.12,878.50 L562.55,877.99 L563.98,877.45 L565.41,876.86 L566.84,876.23 L568.27,875.56 L569.70,874.83 L571.13,874.06 L572.56,873.23 L573.99,872.35 L575.43,871.41 L576.86,870.41 L578.29,869.34 L579.72,868.22 L581.15,867.02 L582.58,865.76 L584.01,864.43 L585.44,863.03 L586.87,861.55 L588.30,859.99 L589.73,858.36 L591.17,856.65 L592.60,854.86 L594.03,852.99 L595.46,851.03 L596.89,849.00 L598.32,846.88 L599.75,844.67 L601.18,842.39 L602.61,840.02 L604.04,837.57 L605.48,835.03 L606.91,832.42 L608.34,829.73 L609.77,826.96 L611.20,824.11 L612.63,821.19 L614.06,818.20 L615.49,815.14 L616.92,812.01 L618.35,808.82 L619.78,805.57 L621.22,802.27 L622.65,798.92 L624.08,795.52 L625.51,792.07 L626.94,788.59 L628.37,785.07 L629.80,781.53 L631.23,777.96 L632.66,774.37 L634.09,770.76 L635.52,767.15 L636.96,763.54 L638.39,759.92 L639.82,756.31 L641.25,752.72 L642.68,749.14 L644.11,745.58 L645.54,742.06 L646.97,738.56 L648.40,735.10 L649.83,731.68 L651.26,728.30 L652.70,724.98 L654.13,721.71 L655.56,718.50 L656.99,715.34 L658.42,712.26 L659.85,709.24 L661.28,706.29 L662.71,703.41 L664.14,700.61 L665.57,697.88 L667.00,695.23 L668.44,692.67 L669.87,690.18 L671.30,687.78 L672.73,685.46 L674.16,683.22 L675.59,681.07 L677.02,678.99 L678.45,677.01 L679.88,675.10 L681.31,673.28 L682.74,671.53 L684.18,669.87 L685.61,668.28 L687.04,666.77 L688.47,665.34 L689.90,663.98 L691.33,662.69 L692.76,661.47 L694.19,660.31 L695.62,659.22 L697.05,658.20 L698.48,657.23 L699.92,656.33 L701.35,655.48 L702.78,654.68 L704.21,653.94 L705.64,653.24 L707.07,652.59 L708.50,651.99 L709.93,651.43 L711.36,650.90 L712.79,650.42 L714.22,649.97 L715.66,649.56 L717.09,649.17 L718.52,648.82 L719.95,648.50 L721.38,648.20 L722.81,647.92 L724.24,647.67 L725.67,647.44 L727.10,647.23 L728.53,647.04 L729.96,646.87 L731.40,646.71 L732.83,646.56 L734.26,646.43 L735.69,646.31 L737.12,646.20 L738.55,646.11 L739.98,646.02 L741.41,645.94 L742.84,645.87 L744.27,645.80 L745.70,645.75 L747.14,645.70 L748.57,645.65 L750.00,645.61 L751.43,645.57 L752.86,645.54 L754.29,645.51 L755.72,645.49 L757.15,645.46 L758.58,645.44" fill="none" stroke="#000" stroke-width="1.1" stroke-dasharray="3 1 1 1"/>
<path d="M488.5,662.3 H513.5" stroke="#000" stroke-width="1.3"/>
<text x="517.50" y="666.40" class="lg">AlAg</text>
<path d="M488.5,676.6 H513.5" stroke="#000" stroke-width="1.1" stroke-dasharray="1.1 1.3"/>
<text x="517.50" y="680.70" class="lg">Ag-HCl</text>
<path d="M488.5,690.7 H513.5" stroke="#000" stroke-width="1.1" stroke-dasharray="3.5 2.2"/>
<text x="517.50" y="694.80" class="lg">Ag-NaOH</text>
<path d="M488.5,704.8 H513.5" stroke="#000" stroke-width="1.1" stroke-dasharray="3 1 1 1"/>
<text x="517.50" y="708.90" class="lg">resin</text>
<rect x="43" y="960.6" width="303.40" height="245.70" fill="none" stroke="#000" stroke-width="1.6"/>
<text x="47.00" y="1221.90" class="tk" text-anchor="middle" textLength="5.17" lengthAdjust="spacingAndGlyphs">0</text>
<text x="68.05" y="1221.90" class="tk" text-anchor="middle" textLength="10.34" lengthAdjust="spacingAndGlyphs">50</text>
<text x="89.10" y="1221.90" class="tk" text-anchor="middle" textLength="15.51" lengthAdjust="spacingAndGlyphs">100</text>
<text x="110.15" y="1221.90" class="tk" text-anchor="middle" textLength="15.51" lengthAdjust="spacingAndGlyphs">150</text>
<text x="131.20" y="1221.90" class="tk" text-anchor="middle" textLength="15.51" lengthAdjust="spacingAndGlyphs">200</text>
<text x="152.25" y="1221.90" class="tk" text-anchor="middle" textLength="15.51" lengthAdjust="spacingAndGlyphs">250</text>
<text x="173.30" y="1221.90" class="tk" text-anchor="middle" textLength="15.51" lengthAdjust="spacingAndGlyphs">300</text>
<text x="194.35" y="1221.90" class="tk" text-anchor="middle" textLength="15.51" lengthAdjust="spacingAndGlyphs">350</text>
<text x="215.40" y="1221.90" class="tk" text-anchor="middle" textLength="15.51" lengthAdjust="spacingAndGlyphs">400</text>
<text x="236.45" y="1221.90" class="tk" text-anchor="middle" textLength="15.51" lengthAdjust="spacingAndGlyphs">450</text>
<text x="257.50" y="1221.90" class="tk" text-anchor="middle" textLength="15.51" lengthAdjust="spacingAndGlyphs">500</text>
<text x="278.55" y="1221.90" class="tk" text-anchor="middle" textLength="15.51" lengthAdjust="spacingAndGlyphs">550</text>
<text x="299.60" y="1221.90" class="tk" text-anchor="middle" textLength="15.51" lengthAdjust="spacingAndGlyphs">600</text>
<text x="320.65" y="1221.90" class="tk" text-anchor="middle" textLength="15.51" lengthAdjust="spacingAndGlyphs">650</text>
<text x="341.70" y="1221.90" class="tk" text-anchor="middle" textLength="15.51" lengthAdjust="spacingAndGlyphs">700</text>
<path d="M47.00,1206.3 v5.2 M57.52,1206.3 v3.0 M68.05,1206.3 v5.2 M78.58,1206.3 v3.0 M89.10,1206.3 v5.2 M99.62,1206.3 v3.0 M110.15,1206.3 v5.2 M120.67,1206.3 v3.0 M131.20,1206.3 v5.2 M141.72,1206.3 v3.0 M152.25,1206.3 v5.2 M162.77,1206.3 v3.0 M173.30,1206.3 v5.2 M183.82,1206.3 v3.0 M194.35,1206.3 v5.2 M204.88,1206.3 v3.0 M215.40,1206.3 v5.2 M225.92,1206.3 v3.0 M236.45,1206.3 v5.2 M246.97,1206.3 v3.0 M257.50,1206.3 v5.2 M268.02,1206.3 v3.0 M278.55,1206.3 v5.2 M289.07,1206.3 v3.0 M299.60,1206.3 v5.2 M310.12,1206.3 v3.0 M320.65,1206.3 v5.2 M331.18,1206.3 v3.0 M341.70,1206.3 v5.2" stroke="#000" stroke-width="1.4" fill="none"/>
<text x="194.70" y="1240.00" class="xt" text-anchor="middle">diameter (microns)</text>
<text x="34.70" y="1205.60" class="tk" text-anchor="end" textLength="18.10" lengthAdjust="spacingAndGlyphs">0.00</text>
<text x="34.70" y="1179.17" class="tk" text-anchor="end" textLength="18.10" lengthAdjust="spacingAndGlyphs">0.01</text>
<text x="34.70" y="1152.73" class="tk" text-anchor="end" textLength="18.10" lengthAdjust="spacingAndGlyphs">0.02</text>
<text x="34.70" y="1126.30" class="tk" text-anchor="end" textLength="18.10" lengthAdjust="spacingAndGlyphs">0.03</text>
<text x="34.70" y="1099.87" class="tk" text-anchor="end" textLength="18.10" lengthAdjust="spacingAndGlyphs">0.04</text>
<text x="34.70" y="1073.43" class="tk" text-anchor="end" textLength="18.10" lengthAdjust="spacingAndGlyphs">0.05</text>
<text x="34.70" y="1047.00" class="tk" text-anchor="end" textLength="18.10" lengthAdjust="spacingAndGlyphs">0.06</text>
<text x="34.70" y="1020.57" class="tk" text-anchor="end" textLength="18.10" lengthAdjust="spacingAndGlyphs">0.07</text>
<text x="34.70" y="994.13" class="tk" text-anchor="end" textLength="18.10" lengthAdjust="spacingAndGlyphs">0.08</text>
<text x="34.70" y="967.70" class="tk" text-anchor="end" textLength="18.10" lengthAdjust="spacingAndGlyphs">0.09</text>
<path d="M43,1202.90 h-5.2 M43,1176.47 h-5.2 M43,1150.03 h-5.2 M43,1123.60 h-5.2 M43,1097.17 h-5.2 M43,1070.73 h-5.2 M43,1044.30 h-5.2 M43,1017.87 h-5.2 M43,991.43 h-5.2 M43,965.00 h-5.2 M43,1189.68 h-3.0 M43,1163.25 h-3.0 M43,1136.82 h-3.0 M43,1110.38 h-3.0 M43,1083.95 h-3.0 M43,1057.52 h-3.0 M43,1031.08 h-3.0 M43,1004.65 h-3.0 M43,978.22 h-3.0" stroke="#000" stroke-width="1.4" fill="none"/>
<text x="353.90" y="1206.00" class="tk" textLength="12.93" lengthAdjust="spacingAndGlyphs">0.0</text>
<text x="353.90" y="1182.15" class="tk" textLength="12.93" lengthAdjust="spacingAndGlyphs">0.1</text>
<text x="353.90" y="1158.30" class="tk" textLength="12.93" lengthAdjust="spacingAndGlyphs">0.2</text>
<text x="353.90" y="1134.45" class="tk" textLength="12.93" lengthAdjust="spacingAndGlyphs">0.3</text>
<text x="353.90" y="1110.60" class="tk" textLength="12.93" lengthAdjust="spacingAndGlyphs">0.4</text>
<text x="353.90" y="1086.75" class="tk" textLength="12.93" lengthAdjust="spacingAndGlyphs">0.5</text>
<text x="353.90" y="1062.90" class="tk" textLength="12.93" lengthAdjust="spacingAndGlyphs">0.6</text>
<text x="353.90" y="1039.05" class="tk" textLength="12.93" lengthAdjust="spacingAndGlyphs">0.7</text>
<text x="353.90" y="1015.20" class="tk" textLength="12.93" lengthAdjust="spacingAndGlyphs">0.8</text>
<text x="353.90" y="991.35" class="tk" textLength="12.93" lengthAdjust="spacingAndGlyphs">0.9</text>
<text x="353.90" y="967.50" class="tk" textLength="12.93" lengthAdjust="spacingAndGlyphs">1.0</text>
<path d="M346.4,1203.20 h5.2 M346.4,1191.28 h3.0 M346.4,1179.35 h5.2 M346.4,1167.42 h3.0 M346.4,1155.50 h5.2 M346.4,1143.58 h3.0 M346.4,1131.65 h5.2 M346.4,1119.73 h3.0 M346.4,1107.80 h5.2 M346.4,1095.88 h3.0 M346.4,1083.95 h5.2 M346.4,1072.03 h3.0 M346.4,1060.10 h5.2 M346.4,1048.17 h3.0 M346.4,1036.25 h5.2 M346.4,1024.33 h3.0 M346.4,1012.40 h5.2 M346.4,1000.48 h3.0 M346.4,988.55 h5.2 M346.4,976.62 h3.0 M346.4,964.70 h5.2" stroke="#000" stroke-width="1.4" fill="none"/>
<text x="9.10" y="1091.45" class="tt" text-anchor="middle" transform="rotate(-90 9.10 1091.45)">frequency</text>
<text x="380.50" y="1075.10" class="tt" text-anchor="middle" transform="rotate(-90 380.50 1075.10)">cumulative frequency</text>
<path d="M47.00,1202.90 L48.42,1202.90 L49.84,1202.90 L51.26,1202.90 L52.68,1202.90 L54.10,1202.90 L55.53,1202.90 L56.95,1202.90 L58.37,1202.90 L59.79,1202.90 L61.21,1202.90 L62.63,1202.90 L64.05,1202.90 L65.47,1202.90 L66.89,1202.90 L68.31,1202.90 L69.73,1202.90 L71.15,1202.90 L72.58,1202.90 L74.00,1202.90 L75.42,1202.89 L76.84,1202.89 L78.26,1202.89 L79.68,1202.89 L81.10,1202.89 L82.52,1202.89 L83.94,1202.88 L85.36,1202.88 L86.78,1202.88 L88.21,1202.87 L89.63,1202.86 L91.05,1202.86 L92.47,1202.85 L93.89,1202.84 L95.31,1202.83 L96.73,1202.82 L98.15,1202.80 L99.57,1202.78 L100.99,1202.76 L102.41,1202.74 L103.84,1202.71 L105.26,1202.68 L106.68,1202.64 L108.10,1202.60 L109.52,1202.55 L110.94,1202.50 L112.36,1202.43 L113.78,1202.36 L115.20,1202.27 L116.62,1202.18 L118.04,1202.07 L119.46,1201.94 L120.89,1201.80 L122.31,1201.64 L123.73,1201.46 L125.15,1201.25 L126.57,1201.02 L127.99,1200.76 L129.41,1200.47 L130.83,1200.14 L132.25,1199.78 L133.67,1199.37 L135.09,1198.91 L136.52,1198.41 L137.94,1197.85 L139.36,1197.23 L140.78,1196.55 L142.20,1195.80 L143.62,1194.97 L145.04,1194.06 L146.46,1193.07 L147.88,1191.98 L149.30,1190.79 L150.72,1189.50 L152.14,1188.10 L153.57,1186.57 L154.99,1184.92 L156.41,1183.14 L157.83,1181.22 L159.25,1179.16 L160.67,1176.94 L162.09,1174.57 L163.51,1172.04 L164.93,1169.34 L166.35,1166.46 L167.77,1163.41 L169.20,1160.18 L170.62,1156.76 L172.04,1153.16 L173.46,1149.37 L174.88,1145.39 L176.30,1141.23 L177.72,1136.88 L179.14,1132.35 L180.56,1127.64 L181.98,1122.75 L183.40,1117.70 L184.82,1112.48 L186.25,1107.12 L187.67,1101.61 L189.09,1095.98 L190.51,1090.23 L191.93,1084.38 L193.35,1078.45 L194.77,1072.44 L196.19,1066.39 L197.61,1060.30 L199.03,1054.21 L200.45,1048.12 L201.88,1042.07 L203.30,1036.08 L204.72,1030.17 L206.14,1024.35 L207.56,1018.67 L208.98,1013.14 L210.40,1007.79 L211.82,1002.63 L213.24,997.70 L214.66,993.02 L216.08,988.60 L217.50,984.48 L218.93,980.67 L220.35,977.18 L221.77,974.05 L223.19,971.27 L224.61,968.88 L226.03,966.87 L227.45,965.26 L228.87,964.06 L230.29,963.28 L231.71,962.91 L233.13,962.97 L234.56,963.44 L235.98,964.34 L237.40,965.64 L238.82,967.35 L240.24,969.46 L241.66,971.96 L243.08,974.83 L244.50,978.05 L245.92,981.63 L247.34,985.52 L248.76,989.72 L250.19,994.21 L251.61,998.96 L253.03,1003.95 L254.45,1009.16 L255.87,1014.56 L257.29,1020.13 L258.71,1025.85 L260.13,1031.69 L261.55,1037.63 L262.97,1043.64 L264.39,1049.70 L265.81,1055.79 L267.24,1061.88 L268.66,1067.96 L270.08,1074.00 L271.50,1079.99 L272.92,1085.91 L274.34,1091.73 L275.76,1097.45 L277.18,1103.05 L278.60,1108.52 L280.02,1113.85 L281.44,1119.02 L282.87,1124.03 L284.29,1128.87 L285.71,1133.54 L287.13,1138.03 L288.55,1142.33 L289.97,1146.44 L291.39,1150.37 L292.81,1154.11 L294.23,1157.66 L295.65,1161.03 L297.07,1164.22 L298.49,1167.22 L299.92,1170.05 L301.34,1172.71 L302.76,1175.20 L304.18,1177.53 L305.60,1179.71 L307.02,1181.73 L308.44,1183.62 L309.86,1185.36 L311.28,1186.98 L312.70,1188.47 L314.12,1189.85 L315.55,1191.11 L316.97,1192.27 L318.39,1193.34 L319.81,1194.31 L321.23,1195.19 L322.65,1196.00 L324.07,1196.74 L325.49,1197.40 L326.91,1198.00 L328.33,1198.55 L329.75,1199.04 L331.18,1199.48" fill="none" stroke="#000" stroke-width="1.35"/>
<path d="M47.00,1203.20 L48.43,1203.20 L49.86,1203.20 L51.29,1203.20 L52.73,1203.20 L54.16,1203.20 L55.59,1203.20 L57.02,1203.20 L58.45,1203.20 L59.88,1203.20 L61.31,1203.20 L62.75,1203.20 L64.18,1203.20 L65.61,1203.20 L67.04,1203.20 L68.47,1203.20 L69.90,1203.20 L71.33,1203.20 L72.77,1203.20 L74.20,1203.20 L75.63,1203.20 L77.06,1203.20 L78.49,1203.20 L79.92,1203.20 L81.35,1203.20 L82.78,1203.20 L84.22,1203.20 L85.65,1203.20 L87.08,1203.20 L88.51,1203.20 L89.94,1203.20 L91.37,1203.20 L92.80,1203.20 L94.24,1203.19 L95.67,1203.19 L97.10,1203.19 L98.53,1203.19 L99.96,1203.19 L101.39,1203.19 L102.82,1203.18 L104.26,1203.18 L105.69,1203.18 L107.12,1203.17 L108.55,1203.17 L109.98,1203.16 L111.41,1203.16 L112.84,1203.15 L114.28,1203.14 L115.71,1203.13 L117.14,1203.12 L118.57,1203.10 L120.00,1203.09 L121.43,1203.07 L122.86,1203.05 L124.30,1203.03 L125.73,1203.00 L127.16,1202.97 L128.59,1202.93 L130.02,1202.89 L131.45,1202.85 L132.88,1202.79 L134.32,1202.73 L135.75,1202.67 L137.18,1202.59 L138.61,1202.51 L140.04,1202.41 L141.47,1202.31 L142.90,1202.19 L144.34,1202.06 L145.77,1201.91 L147.20,1201.74 L148.63,1201.56 L150.06,1201.36 L151.49,1201.13 L152.92,1200.88 L154.35,1200.61 L155.79,1200.31 L157.22,1199.98 L158.65,1199.61 L160.08,1199.21 L161.51,1198.77 L162.94,1198.29 L164.37,1197.77 L165.81,1197.21 L167.24,1196.59 L168.67,1195.92 L170.10,1195.20 L171.53,1194.42 L172.96,1193.58 L174.39,1192.68 L175.83,1191.70 L177.26,1190.66 L178.69,1189.54 L180.12,1188.35 L181.55,1187.07 L182.98,1185.72 L184.41,1184.27 L185.85,1182.74 L187.28,1181.12 L188.71,1179.41 L190.14,1177.59 L191.57,1175.69 L193.00,1173.68 L194.43,1171.57 L195.87,1169.36 L197.30,1167.05 L198.73,1164.64 L200.16,1162.12 L201.59,1159.51 L203.02,1156.79 L204.45,1153.97 L205.89,1151.05 L207.32,1148.03 L208.75,1144.92 L210.18,1141.71 L211.61,1138.42 L213.04,1135.04 L214.47,1131.58 L215.91,1128.04 L217.34,1124.43 L218.77,1120.76 L220.20,1117.02 L221.63,1113.22 L223.06,1109.37 L224.49,1105.48 L225.92,1101.56 L227.36,1097.60 L228.79,1093.61 L230.22,1089.61 L231.65,1085.60 L233.08,1081.59 L234.51,1077.58 L235.94,1073.58 L237.38,1069.60 L238.81,1065.65 L240.24,1061.73 L241.67,1057.84 L243.10,1054.01 L244.53,1050.22 L245.96,1046.49 L247.40,1042.82 L248.83,1039.23 L250.26,1035.70 L251.69,1032.26 L253.12,1028.89 L254.55,1025.61 L255.98,1022.43 L257.42,1019.33 L258.85,1016.33 L260.28,1013.43 L261.71,1010.63 L263.14,1007.92 L264.57,1005.32 L266.00,1002.83 L267.44,1000.43 L268.87,998.14 L270.30,995.95 L271.73,993.86 L273.16,991.87 L274.59,989.98 L276.02,988.18 L277.46,986.49 L278.89,984.88 L280.32,983.37 L281.75,981.94 L283.18,980.60 L284.61,979.34 L286.04,978.15 L287.48,977.05 L288.91,976.02 L290.34,975.06 L291.77,974.17 L293.20,973.33 L294.63,972.57 L296.06,971.85 L297.50,971.20 L298.93,970.59 L300.36,970.03 L301.79,969.52 L303.22,969.05 L304.65,968.62 L306.08,968.22 L307.51,967.86 L308.95,967.54 L310.38,967.24 L311.81,966.97 L313.24,966.73 L314.67,966.50 L316.10,966.30 L317.53,966.12 L318.97,965.96 L320.40,965.82 L321.83,965.69 L323.26,965.57 L324.69,965.47 L326.12,965.38 L327.55,965.29 L328.99,965.22 L330.42,965.15 L331.85,965.10 L333.28,965.05" fill="none" stroke="#000" stroke-width="1.35" stroke-dasharray="4 2.6"/>
<circle cx="47.50" cy="1202.80" r="2.15" fill="none" stroke="#000" stroke-width="1.4"/>
<circle cx="62.30" cy="1202.80" r="2.15" fill="none" stroke="#000" stroke-width="1.4"/>
<circle cx="68.10" cy="1202.80" r="2.15" fill="none" stroke="#000" stroke-width="1.4"/>
<circle cx="80.60" cy="1202.80" r="2.15" fill="none" stroke="#000" stroke-width="1.4"/>
<circle cx="94.40" cy="1202.80" r="2.15" fill="none" stroke="#000" stroke-width="1.4"/>
<circle cx="114.40" cy="1202.80" r="2.15" fill="none" stroke="#000" stroke-width="1.4"/>
<circle cx="129.50" cy="1202.80" r="2.15" fill="none" stroke="#000" stroke-width="1.4"/>
<circle cx="142.00" cy="1202.80" r="2.15" fill="none" stroke="#000" stroke-width="1.4"/>
<circle cx="153.30" cy="1202.80" r="2.15" fill="none" stroke="#000" stroke-width="1.4"/>
<circle cx="163.30" cy="1171.50" r="2.15" fill="none" stroke="#000" stroke-width="1.4"/>
<circle cx="172.60" cy="1140.20" r="2.15" fill="none" stroke="#000" stroke-width="1.4"/>
<circle cx="181.30" cy="1108.30" r="2.15" fill="none" stroke="#000" stroke-width="1.4"/>
<circle cx="189.60" cy="1086.40" r="2.15" fill="none" stroke="#000" stroke-width="1.4"/>
<circle cx="197.50" cy="1064.00" r="2.15" fill="none" stroke="#000" stroke-width="1.4"/>
<circle cx="204.70" cy="1045.20" r="2.15" fill="none" stroke="#000" stroke-width="1.4"/>
<circle cx="211.80" cy="1013.80" r="2.15" fill="none" stroke="#000" stroke-width="1.4"/>
<circle cx="218.30" cy="982.50" r="2.15" fill="none" stroke="#000" stroke-width="1.4"/>
<circle cx="224.70" cy="976.10" r="2.15" fill="none" stroke="#000" stroke-width="1.4"/>
<circle cx="248.60" cy="976.00" r="2.15" fill="none" stroke="#000" stroke-width="1.4"/>
<circle cx="254.30" cy="1013.90" r="2.15" fill="none" stroke="#000" stroke-width="1.4"/>
<circle cx="259.70" cy="1076.70" r="2.15" fill="none" stroke="#000" stroke-width="1.4"/>
<circle cx="284.80" cy="1127.30" r="2.15" fill="none" stroke="#000" stroke-width="1.4"/>
<circle cx="307.20" cy="1171.20" r="2.15" fill="none" stroke="#000" stroke-width="1.4"/>
<circle cx="328.50" cy="1199.70" r="2.15" fill="none" stroke="#000" stroke-width="1.4"/>
<circle cx="331.20" cy="1202.50" r="2.15" fill="none" stroke="#000" stroke-width="1.4"/>
<circle cx="67.30" cy="975.80" r="1.9" fill="none" stroke="#000" stroke-width="1.4"/>
<path d="M54.30,990.10 H79.80" stroke="#000" stroke-width="1.35"/>
<path d="M53.00,1007.60 H79.80" stroke="#000" stroke-width="1.35" stroke-dasharray="3.2 1.9"/>
<text x="83.10" y="979.70" class="lg">measurement</text>
<text x="83.10" y="993.80" class="lg">Gaussian</text>
<text x="81.10" y="1011.30" class="lg">cumulative</text>
<text x="292.60" y="994.40" class="lb">NaCl</text>
<text x="292.60" y="1007.80" class="lb">particles</text>
<rect x="474.4" y="960.2" width="302.60" height="246.30" fill="none" stroke="#000" stroke-width="1.6"/>
<text x="478.50" y="1222.10" class="tk" text-anchor="middle" textLength="5.17" lengthAdjust="spacingAndGlyphs">0</text>
<text x="499.47" y="1222.10" class="tk" text-anchor="middle" textLength="10.34" lengthAdjust="spacingAndGlyphs">50</text>
<text x="520.44" y="1222.10" class="tk" text-anchor="middle" textLength="15.51" lengthAdjust="spacingAndGlyphs">100</text>
<text x="541.41" y="1222.10" class="tk" text-anchor="middle" textLength="15.51" lengthAdjust="spacingAndGlyphs">150</text>
<text x="562.39" y="1222.10" class="tk" text-anchor="middle" textLength="15.51" lengthAdjust="spacingAndGlyphs">200</text>
<text x="583.36" y="1222.10" class="tk" text-anchor="middle" textLength="15.51" lengthAdjust="spacingAndGlyphs">250</text>
<text x="604.33" y="1222.10" class="tk" text-anchor="middle" textLength="15.51" lengthAdjust="spacingAndGlyphs">300</text>
<text x="625.30" y="1222.10" class="tk" text-anchor="middle" textLength="15.51" lengthAdjust="spacingAndGlyphs">350</text>
<text x="646.27" y="1222.10" class="tk" text-anchor="middle" textLength="15.51" lengthAdjust="spacingAndGlyphs">400</text>
<text x="667.24" y="1222.10" class="tk" text-anchor="middle" textLength="15.51" lengthAdjust="spacingAndGlyphs">450</text>
<text x="688.21" y="1222.10" class="tk" text-anchor="middle" textLength="15.51" lengthAdjust="spacingAndGlyphs">500</text>
<text x="709.19" y="1222.10" class="tk" text-anchor="middle" textLength="15.51" lengthAdjust="spacingAndGlyphs">550</text>
<text x="730.16" y="1222.10" class="tk" text-anchor="middle" textLength="15.51" lengthAdjust="spacingAndGlyphs">600</text>
<text x="751.13" y="1222.10" class="tk" text-anchor="middle" textLength="15.51" lengthAdjust="spacingAndGlyphs">650</text>
<text x="772.10" y="1222.10" class="tk" text-anchor="middle" textLength="15.51" lengthAdjust="spacingAndGlyphs">700</text>
<path d="M478.50,1206.5 v5.2 M488.99,1206.5 v3.0 M499.47,1206.5 v5.2 M509.96,1206.5 v3.0 M520.44,1206.5 v5.2 M530.93,1206.5 v3.0 M541.41,1206.5 v5.2 M551.90,1206.5 v3.0 M562.39,1206.5 v5.2 M572.87,1206.5 v3.0 M583.36,1206.5 v5.2 M593.84,1206.5 v3.0 M604.33,1206.5 v5.2 M614.81,1206.5 v3.0 M625.30,1206.5 v5.2 M635.79,1206.5 v3.0 M646.27,1206.5 v5.2 M656.76,1206.5 v3.0 M667.24,1206.5 v5.2 M677.73,1206.5 v3.0 M688.21,1206.5 v5.2 M698.70,1206.5 v3.0 M709.19,1206.5 v5.2 M719.67,1206.5 v3.0 M730.16,1206.5 v5.2 M740.64,1206.5 v3.0 M751.13,1206.5 v5.2 M761.61,1206.5 v3.0 M772.10,1206.5 v5.2" stroke="#000" stroke-width="1.4" fill="none"/>
<text x="625.70" y="1240.20" class="xt" text-anchor="middle">diameter (microns)</text>
<text x="466.10" y="1204.00" class="tk" text-anchor="end" textLength="23.27" lengthAdjust="spacingAndGlyphs">0.000</text>
<text x="466.10" y="1170.17" class="tk" text-anchor="end" textLength="23.27" lengthAdjust="spacingAndGlyphs">0.001</text>
<text x="466.10" y="1136.34" class="tk" text-anchor="end" textLength="23.27" lengthAdjust="spacingAndGlyphs">0.002</text>
<text x="466.10" y="1102.51" class="tk" text-anchor="end" textLength="23.27" lengthAdjust="spacingAndGlyphs">0.003</text>
<text x="466.10" y="1068.69" class="tk" text-anchor="end" textLength="23.27" lengthAdjust="spacingAndGlyphs">0.004</text>
<text x="466.10" y="1034.86" class="tk" text-anchor="end" textLength="23.27" lengthAdjust="spacingAndGlyphs">0.005</text>
<text x="466.10" y="1001.03" class="tk" text-anchor="end" textLength="23.27" lengthAdjust="spacingAndGlyphs">0.006</text>
<text x="466.10" y="967.20" class="tk" text-anchor="end" textLength="23.27" lengthAdjust="spacingAndGlyphs">0.007</text>
<path d="M474.4,1201.30 h-5.2 M474.4,1167.47 h-5.2 M474.4,1133.64 h-5.2 M474.4,1099.81 h-5.2 M474.4,1065.99 h-5.2 M474.4,1032.16 h-5.2 M474.4,998.33 h-5.2 M474.4,964.50 h-5.2 M474.4,1184.39 h-3.0 M474.4,1150.56 h-3.0 M474.4,1116.73 h-3.0 M474.4,1082.90 h-3.0 M474.4,1049.07 h-3.0 M474.4,1015.24 h-3.0 M474.4,981.41 h-3.0" stroke="#000" stroke-width="1.4" fill="none"/>
<text x="439.20" y="1090.60" class="tt" text-anchor="middle" transform="rotate(-90 439.20 1090.60)">normalized frequency</text>
<path d="M478.50,1201.30 L479.94,1201.30 L481.37,1201.30 L482.81,1201.30 L484.25,1201.30 L485.68,1201.30 L487.12,1201.30 L488.56,1201.30 L489.99,1201.30 L491.43,1201.30 L492.87,1201.30 L494.30,1201.30 L495.74,1201.30 L497.18,1201.30 L498.61,1201.30 L500.05,1201.30 L501.48,1201.30 L502.92,1201.30 L504.36,1201.30 L505.79,1201.30 L507.23,1201.30 L508.67,1201.29 L510.10,1201.29 L511.54,1201.29 L512.98,1201.29 L514.41,1201.29 L515.85,1201.28 L517.29,1201.28 L518.72,1201.28 L520.16,1201.27 L521.60,1201.27 L523.03,1201.26 L524.47,1201.26 L525.91,1201.25 L527.34,1201.24 L528.78,1201.23 L530.22,1201.21 L531.65,1201.20 L533.09,1201.18 L534.53,1201.16 L535.96,1201.13 L537.40,1201.11 L538.83,1201.07 L540.27,1201.04 L541.71,1200.99 L543.14,1200.94 L544.58,1200.89 L546.02,1200.82 L547.45,1200.75 L548.89,1200.67 L550.33,1200.57 L551.76,1200.46 L553.20,1200.34 L554.64,1200.20 L556.07,1200.04 L557.51,1199.86 L558.95,1199.67 L560.38,1199.44 L561.82,1199.19 L563.26,1198.91 L564.69,1198.60 L566.13,1198.26 L567.57,1197.87 L569.00,1197.44 L570.44,1196.97 L571.88,1196.45 L573.31,1195.88 L574.75,1195.25 L576.18,1194.55 L577.62,1193.79 L579.06,1192.97 L580.49,1192.06 L581.93,1191.08 L583.37,1190.01 L584.80,1188.85 L586.24,1187.60 L587.68,1186.25 L589.11,1184.80 L590.55,1183.24 L591.99,1181.56 L593.42,1179.77 L594.86,1177.86 L596.30,1175.82 L597.73,1173.66 L599.17,1171.36 L600.61,1168.94 L602.04,1166.38 L603.48,1163.68 L604.92,1160.85 L606.35,1157.88 L607.79,1154.78 L609.23,1151.55 L610.66,1148.18 L612.10,1144.69 L613.54,1141.08 L614.97,1137.36 L616.41,1133.52 L617.84,1129.58 L619.28,1125.55 L620.72,1121.43 L622.15,1117.25 L623.59,1113.00 L625.03,1108.70 L626.46,1104.36 L627.90,1100.01 L629.34,1095.64 L630.77,1091.29 L632.21,1086.96 L633.65,1082.67 L635.08,1078.44 L636.52,1074.29 L637.96,1070.23 L639.39,1066.29 L640.83,1062.47 L642.27,1058.80 L643.70,1055.30 L645.14,1051.98 L646.58,1048.85 L648.01,1045.94 L649.45,1043.25 L650.89,1040.81 L652.32,1038.61 L653.76,1036.69 L655.19,1035.03 L656.63,1033.67 L658.07,1032.59 L659.50,1031.80 L660.94,1031.32 L662.38,1031.14 L663.81,1031.27 L665.25,1031.70 L666.69,1032.43 L668.12,1033.45 L669.56,1034.77 L671.00,1036.38 L672.43,1038.26 L673.87,1040.40 L675.31,1042.81 L676.74,1045.45 L678.18,1048.33 L679.62,1051.42 L681.05,1054.70 L682.49,1058.18 L683.93,1061.82 L685.36,1065.61 L686.80,1069.53 L688.24,1073.57 L689.67,1077.71 L691.11,1081.93 L692.54,1086.20 L693.98,1090.53 L695.42,1094.88 L696.85,1099.24 L698.29,1103.60 L699.73,1107.94 L701.16,1112.25 L702.60,1116.51 L704.04,1120.71 L705.47,1124.83 L706.91,1128.88 L708.35,1132.84 L709.78,1136.69 L711.22,1140.44 L712.66,1144.07 L714.09,1147.58 L715.53,1150.97 L716.97,1154.22 L718.40,1157.35 L719.84,1160.34 L721.28,1163.19 L722.71,1165.91 L724.15,1168.50 L725.59,1170.95 L727.02,1173.26 L728.46,1175.45 L729.89,1177.51 L731.33,1179.44 L732.77,1181.26 L734.20,1182.95 L735.64,1184.53 L737.08,1186.00 L738.51,1187.37 L739.95,1188.64 L741.39,1189.81 L742.82,1190.90 L744.26,1191.90 L745.70,1192.81 L747.13,1193.65 L748.57,1194.43 L750.01,1195.13 L751.44,1195.77 L752.88,1196.35 L754.32,1196.88 L755.75,1197.37 L757.19,1197.80 L758.63,1198.19 L760.06,1198.54 L761.50,1198.86 L762.94,1199.15 L764.37,1199.40 L765.81,1199.63" fill="none" stroke="#000" stroke-width="1.35"/>
<path d="M478.50,1201.30 L480.06,1200.95 L482.10,1200.50 L484.52,1199.97 L487.24,1199.37 L490.15,1198.71 L493.16,1198.00 L496.17,1197.26 L499.10,1196.50 L502.01,1195.73 L505.04,1194.96 L508.15,1194.16 L511.32,1193.31 L514.52,1192.39 L517.74,1191.38 L520.94,1190.26 L524.10,1189.00 L527.23,1187.64 L530.37,1186.20 L533.51,1184.67 L536.64,1183.04 L539.78,1181.29 L542.92,1179.41 L546.06,1177.38 L549.20,1175.20 L552.44,1172.72 L555.83,1169.89 L559.28,1166.85 L562.69,1163.71 L565.99,1160.60 L569.09,1157.65 L571.89,1154.97 L574.30,1152.70 L576.24,1150.93 L577.74,1149.59 L578.94,1148.53 L579.93,1147.63 L580.85,1146.73 L581.80,1145.70 L582.91,1144.41 L584.30,1142.70 L585.95,1140.57 L587.76,1138.14 L589.67,1135.49 L591.64,1132.68 L593.64,1129.80 L595.61,1126.91 L597.51,1124.08 L599.30,1121.40 L600.98,1118.80 L602.60,1116.19 L604.17,1113.59 L605.70,1111.01 L607.22,1108.47 L608.73,1105.99 L610.25,1103.60 L611.80,1101.30 L613.40,1099.06 L615.04,1096.83 L616.69,1094.65 L618.34,1092.55 L619.96,1090.55 L621.53,1088.70 L623.02,1087.00 L624.40,1085.50 L625.66,1084.22 L626.81,1083.13 L627.87,1082.21 L628.89,1081.42 L629.88,1080.74 L630.87,1080.13 L631.90,1079.56 L633.00,1079.00 L634.15,1078.46 L635.33,1077.97 L636.54,1077.53 L637.75,1077.16 L638.97,1076.86 L640.19,1076.63 L641.40,1076.47 L642.60,1076.40 L643.79,1076.42 L645.00,1076.54 L646.20,1076.74 L647.40,1077.01 L648.59,1077.33 L649.75,1077.70 L650.89,1078.09 L652.00,1078.50 L653.07,1078.93 L654.11,1079.39 L655.12,1079.89 L656.11,1080.43 L657.08,1081.01 L658.05,1081.63 L659.02,1082.29 L660.00,1083.00 L660.95,1083.71 L661.86,1084.41 L662.75,1085.12 L663.64,1085.89 L664.56,1086.75 L665.53,1087.73 L666.57,1088.87 L667.70,1090.20 L668.94,1091.69 L670.27,1093.28 L671.68,1095.00 L673.13,1096.86 L674.61,1098.88 L676.10,1101.06 L677.57,1103.43 L679.00,1106.00 L680.40,1108.87 L681.80,1112.06 L683.20,1115.48 L684.60,1119.05 L686.00,1122.68 L687.40,1126.27 L688.80,1129.74 L690.20,1133.00 L691.61,1136.11 L693.02,1139.18 L694.43,1142.20 L695.84,1145.16 L697.26,1148.03 L698.67,1150.80 L700.09,1153.46 L701.50,1156.00 L702.91,1158.41 L704.33,1160.72 L705.74,1162.93 L707.16,1165.03 L708.57,1167.04 L709.98,1168.95 L711.39,1170.77 L712.80,1172.50 L714.20,1174.12 L715.60,1175.62 L717.00,1177.01 L718.40,1178.31 L719.80,1179.55 L721.20,1180.73 L722.60,1181.87 L724.00,1183.00 L725.41,1184.10 L726.82,1185.14 L728.23,1186.14 L729.64,1187.09 L731.06,1188.00 L732.47,1188.87 L733.89,1189.70 L735.30,1190.50 L736.71,1191.26 L738.12,1191.97 L739.54,1192.64 L740.95,1193.27 L742.36,1193.87 L743.77,1194.44 L745.19,1194.98 L746.60,1195.50 L747.99,1195.98 L749.35,1196.43 L750.69,1196.83 L752.04,1197.21 L753.41,1197.57 L754.84,1197.92 L756.32,1198.26 L757.90,1198.60 L759.68,1198.95 L761.68,1199.31 L763.81,1199.66 L765.96,1199.99 L768.01,1200.31 L769.88,1200.59 L771.44,1200.82 L772.60,1201.00" fill="none" stroke="#000" stroke-width="1.35" stroke-dasharray="4 2.6"/>
<circle cx="477.80" cy="1201.60" r="2.15" fill="none" stroke="#000" stroke-width="1.4"/>
<circle cx="492.80" cy="1201.60" r="2.15" fill="none" stroke="#000" stroke-width="1.4"/>
<circle cx="499.10" cy="1201.60" r="2.15" fill="none" stroke="#000" stroke-width="1.4"/>
<circle cx="511.60" cy="1201.60" r="2.15" fill="none" stroke="#000" stroke-width="1.4"/>
<circle cx="525.40" cy="1201.60" r="2.15" fill="none" stroke="#000" stroke-width="1.4"/>
<circle cx="545.40" cy="1199.00" r="2.15" fill="none" stroke="#000" stroke-width="1.4"/>
<circle cx="560.50" cy="1191.00" r="2.15" fill="none" stroke="#000" stroke-width="1.4"/>
<circle cx="573.20" cy="1172.20" r="2.15" fill="none" stroke="#000" stroke-width="1.4"/>
<circle cx="583.80" cy="1143.40" r="2.15" fill="none" stroke="#000" stroke-width="1.4"/>
<circle cx="594.30" cy="1135.60" r="2.15" fill="none" stroke="#000" stroke-width="1.4"/>
<circle cx="603.50" cy="1114.30" r="2.15" fill="none" stroke="#000" stroke-width="1.4"/>
<circle cx="612.40" cy="1100.70" r="2.15" fill="none" stroke="#000" stroke-width="1.4"/>
<circle cx="620.70" cy="1086.80" r="2.15" fill="none" stroke="#000" stroke-width="1.4"/>
<circle cx="628.20" cy="1072.50" r="2.15" fill="none" stroke="#000" stroke-width="1.4"/>
<circle cx="635.50" cy="1056.80" r="2.15" fill="none" stroke="#000" stroke-width="1.4"/>
<circle cx="642.40" cy="1060.90" r="2.15" fill="none" stroke="#000" stroke-width="1.4"/>
<circle cx="649.00" cy="1054.70" r="2.15" fill="none" stroke="#000" stroke-width="1.4"/>
<circle cx="655.70" cy="1060.40" r="2.15" fill="none" stroke="#000" stroke-width="1.4"/>
<circle cx="661.40" cy="1083.10" r="2.15" fill="none" stroke="#000" stroke-width="1.4"/>
<circle cx="667.70" cy="1076.00" r="2.15" fill="none" stroke="#000" stroke-width="1.4"/>
<circle cx="673.80" cy="1088.80" r="2.15" fill="none" stroke="#000" stroke-width="1.4"/>
<circle cx="679.40" cy="1106.60" r="2.15" fill="none" stroke="#000" stroke-width="1.4"/>
<circle cx="684.60" cy="1125.80" r="2.15" fill="none" stroke="#000" stroke-width="1.4"/>
<circle cx="690.20" cy="1137.50" r="2.15" fill="none" stroke="#000" stroke-width="1.4"/>
<circle cx="715.50" cy="1172.00" r="2.15" fill="none" stroke="#000" stroke-width="1.4"/>
<circle cx="738.10" cy="1191.70" r="2.15" fill="none" stroke="#000" stroke-width="1.4"/>
<circle cx="759.00" cy="1201.10" r="2.15" fill="none" stroke="#000" stroke-width="1.4"/>
<circle cx="761.70" cy="1201.10" r="2.15" fill="none" stroke="#000" stroke-width="1.4"/>
<circle cx="494.00" cy="973.80" r="1.9" fill="none" stroke="#000" stroke-width="1.4"/>
<path d="M481.5,987.6 H507.3" stroke="#000" stroke-width="1.35"/>
<path d="M481.5,1002.1 H507.3" stroke="#000" stroke-width="1.35" stroke-dasharray="3.2 1.9"/>
<text x="510.80" y="978.30" class="lg">NaCl particles in resin (2D)</text>
<text x="510.80" y="991.80" class="lg">Gaussian fitting of NaCl particles (3D)</text>
<text x="510.80" y="1006.20" class="lg">calculated curve from stereology</text>
<text x="191.5" y="309" class="pl" text-anchor="middle">(a)</text>
<text x="604" y="309" class="pl" text-anchor="middle">(b)</text>
<text x="191.2" y="629" class="pl" text-anchor="middle">(c)</text>
<text x="604" y="629" class="pl" text-anchor="middle">(d)</text>
<text x="191.5" y="949" class="pl" text-anchor="middle">(e)</text>
<text x="603.9" y="949" class="pl" text-anchor="middle">(f)</text>
<text x="191.2" y="1268" class="pl" text-anchor="middle">(g)</text>
<text x="603.9" y="1268.5" class="pl" text-anchor="middle">(h)</text>
</svg>
</body></html>
